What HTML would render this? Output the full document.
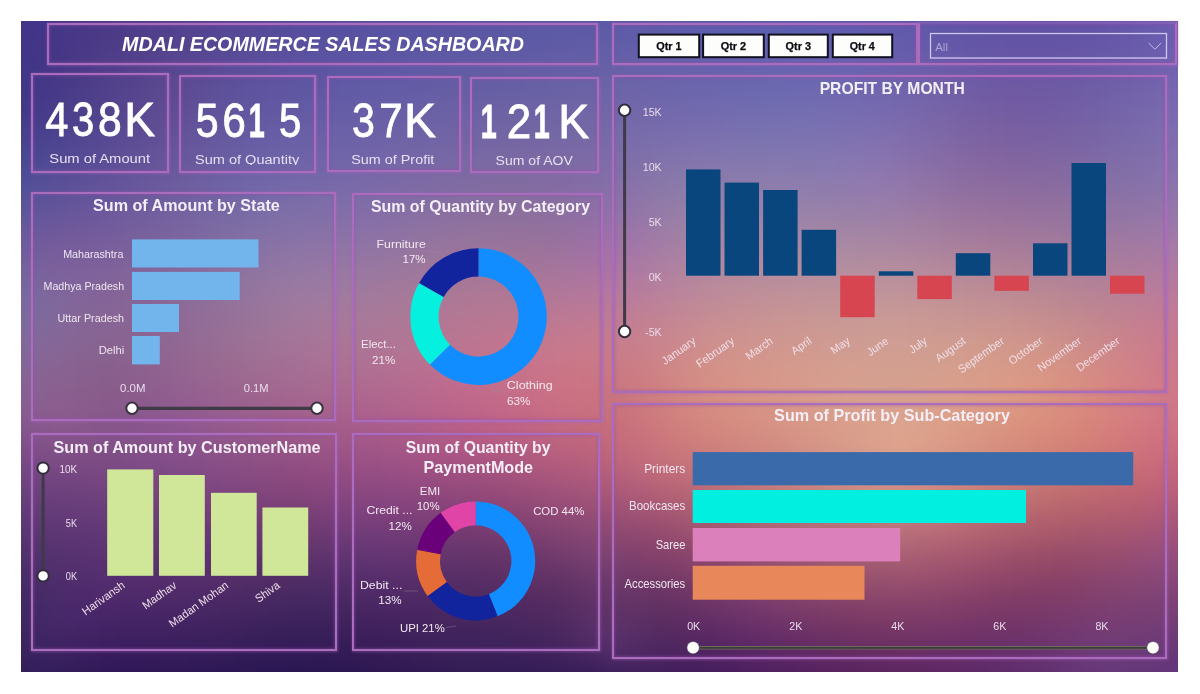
<!DOCTYPE html>
<html><head><meta charset="utf-8">
<style>
*{margin:0;padding:0;box-sizing:border-box}
html,body{width:1200px;height:694px;background:#fff;overflow:hidden;position:relative;font-family:"Liberation Sans",sans-serif}
#bg{position:absolute;left:21px;top:21px;width:1157px;height:651px;overflow:hidden;box-shadow:none}
#bgc{position:absolute;left:-11px;top:-11px;width:1180px;height:674px;filter:blur(3px)}
#bgc i{position:absolute;left:0;width:1180px;height:7px;display:block}
.box{position:absolute;border:2.8px solid #aa6cbc;box-shadow:inset 0 0 3px 1px rgba(150,80,170,.45),0 0 2.5px .5px rgba(170,100,190,.45)}
text{font-family:"Liberation Sans",sans-serif}
.t0{font-size:21px;font-weight:bold;font-style:italic;fill:#fff}
.q{font-size:9.5px;font-weight:bold;fill:#0c0c14;stroke:#0c0c14;stroke-width:.25px}
.dd{font-size:11.5px;fill:#aca4d6}
.kv{font-size:48px;fill:#fff;stroke:#fff;stroke-width:.9px}
.kl{font-size:14.5px;fill:#e8dff2}
.ct{font-size:17px;font-weight:bold;fill:#f4eef6}
.sl{font-size:11px;fill:#efe6f0}
.ax{font-size:10px;fill:#eadcec}
.dl{font-size:11px;fill:#f2e8f0}
.rl{font-size:10px;fill:#efdfe9}
</style></head><body>
<div id="bg"><div id="bgc">
<i style="top:0px;background:linear-gradient(90deg,#3f338a 0px,#423489 24px,#443587 48px,#473787 72px,#4a3887 96px,#4c3b89 120px,#4e3d8b 144px,#503f8e 168px,#514291 192px,#524494 216px,#524697 240px,#534999 264px,#534a9c 288px,#534c9e 312px,#544e9f 336px,#544fa1 360px,#5550a2 384px,#5552a2 408px,#5653a3 432px,#5654a3 456px,#5755a4 480px,#5856a4 504px,#5856a5 528px,#5957a5 552px,#5958a6 576px,#5a58a7 600px,#5a59a8 624px,#5a59a9 648px,#5a5aaa 672px,#595aab 696px,#595aac 720px,#5a5bad 744px,#5a5bae 768px,#5a5aae 792px,#5b5aae 816px,#5c59ae 840px,#5c58ad 864px,#5d57ac 888px,#5d56aa 912px,#5d54a9 936px,#5e53a8 960px,#5e52a7 984px,#5e51a6 1008px,#5f51a6 1032px,#6051a7 1056px,#6153a8 1080px,#6254aa 1104px,#6457ac 1128px,#6659af 1152px,#695bb1 1176px,#695cb2 1180px)"></i>
<i style="top:6px;background:linear-gradient(90deg,#3f338a 0px,#423489 24px,#453587 48px,#483786 72px,#4a3987 96px,#4d3b89 120px,#4f3e8b 144px,#50408e 168px,#524391 192px,#534594 216px,#534797 240px,#54499a 264px,#544b9c 288px,#544d9e 312px,#554fa0 336px,#5550a1 360px,#5651a2 384px,#5652a3 408px,#5753a3 432px,#5754a3 456px,#5855a4 480px,#5956a4 504px,#5957a5 528px,#5a58a5 552px,#5b59a6 576px,#5b59a7 600px,#5b5aa8 624px,#5b5aa9 648px,#5b5baa 672px,#5b5bab 696px,#5b5bac 720px,#5b5bad 744px,#5b5cae 768px,#5c5bae 792px,#5c5bae 816px,#5d5aae 840px,#5e59ad 864px,#5e58ac 888px,#5f56aa 912px,#5f55a9 936px,#5f53a8 960px,#5f52a7 984px,#5f52a6 1008px,#6051a6 1032px,#6152a7 1056px,#6253a8 1080px,#6355a9 1104px,#6557ac 1128px,#675aae 1152px,#6a5cb1 1176px,#6a5db2 1180px)"></i>
<i style="top:12px;background:linear-gradient(90deg,#3f338a 0px,#423489 24px,#453687 48px,#483786 72px,#4b3987 96px,#4d3c89 120px,#4f3e8b 144px,#51418e 168px,#534391 192px,#534694 216px,#544897 240px,#544a9a 264px,#554c9d 288px,#554e9f 312px,#564fa0 336px,#5651a1 360px,#5752a2 384px,#5753a3 408px,#5854a3 432px,#5955a4 456px,#5956a4 480px,#5a57a4 504px,#5b58a5 528px,#5b59a5 552px,#5c5aa6 576px,#5d5aa7 600px,#5d5ba8 624px,#5c5ba9 648px,#5c5baa 672px,#5c5cac 696px,#5c5cad 720px,#5c5cae 744px,#5d5dae 768px,#5d5daf 792px,#5e5caf 816px,#5e5bae 840px,#5f5aad 864px,#6059ac 888px,#6057aa 912px,#6056a9 936px,#6054a8 960px,#6053a7 984px,#6152a6 1008px,#6152a6 1032px,#6253a6 1056px,#6354a7 1080px,#6456a9 1104px,#6658ac 1128px,#685bae 1152px,#6b5db1 1176px,#6b5db1 1180px)"></i>
<i style="top:18px;background:linear-gradient(90deg,#3f348a 0px,#423589 24px,#453687 48px,#483886 72px,#4b3a87 96px,#4e3c89 120px,#503f8c 144px,#52418e 168px,#534492 192px,#544795 216px,#554998 240px,#554b9b 264px,#564d9d 288px,#564f9f 312px,#5750a1 336px,#5752a2 360px,#5853a3 384px,#5854a3 408px,#5955a3 432px,#5a56a4 456px,#5a57a4 480px,#5b58a4 504px,#5c59a5 528px,#5d5aa5 552px,#5d5aa6 576px,#5e5ba7 600px,#5e5ca8 624px,#5e5ca9 648px,#5d5caa 672px,#5d5dac 696px,#5d5dad 720px,#5d5dae 744px,#5e5eae 768px,#5e5eaf 792px,#5f5daf 816px,#605cae 840px,#615bad 864px,#615aac 888px,#6158aa 912px,#6157a9 936px,#6155a7 960px,#6154a6 984px,#6253a6 1008px,#6253a6 1032px,#6353a6 1056px,#6454a7 1080px,#6556a9 1104px,#6759ab 1128px,#695cae 1152px,#6c5eb1 1176px,#6c5eb1 1180px)"></i>
<i style="top:24px;background:linear-gradient(90deg,#3f348a 0px,#423588 24px,#463686 48px,#493886 72px,#4c3a87 96px,#4f3d89 120px,#513f8c 144px,#53428f 168px,#544592 192px,#554795 216px,#564a98 240px,#564c9b 264px,#574e9d 288px,#57509f 312px,#5851a1 336px,#5853a2 360px,#5954a3 384px,#5a55a3 408px,#5a56a4 432px,#5b57a4 456px,#5c58a4 480px,#5c59a4 504px,#5d5aa5 528px,#5e5aa5 552px,#5f5ba6 576px,#5f5ca7 600px,#5f5ca8 624px,#5f5da9 648px,#5f5dab 672px,#5f5eac 696px,#5f5ead 720px,#5f5fae 744px,#5f5faf 768px,#605faf 792px,#615eaf 816px,#615daf 840px,#625cae 864px,#625bac 888px,#6359aa 912px,#6357a9 936px,#6356a7 960px,#6354a6 984px,#6353a5 1008px,#6353a5 1032px,#6454a6 1056px,#6555a7 1080px,#6657a9 1104px,#685aab 1128px,#6a5cae 1152px,#6d5fb1 1176px,#6d5fb1 1180px)"></i>
<i style="top:30px;background:linear-gradient(90deg,#3f3489 0px,#433588 24px,#463686 48px,#493886 72px,#4c3b87 96px,#4f3d89 120px,#52408c 144px,#54438f 168px,#554692 192px,#564896 216px,#574b99 240px,#574d9c 264px,#584f9e 288px,#5851a0 312px,#5952a1 336px,#5953a2 360px,#5a55a3 384px,#5b56a4 408px,#5b57a4 432px,#5c58a4 456px,#5d59a4 480px,#5e5aa4 504px,#5e5aa5 528px,#5f5ba5 552px,#605ca6 576px,#615da7 600px,#615da8 624px,#615ea9 648px,#605eab 672px,#605fac 696px,#605fad 720px,#6060ae 744px,#6160af 768px,#6160af 792px,#625faf 816px,#635faf 840px,#635dae 864px,#645cac 888px,#645aaa 912px,#6458a9 936px,#6456a7 960px,#6455a6 984px,#6454a5 1008px,#6454a5 1032px,#6555a6 1056px,#6656a7 1080px,#6758a9 1104px,#695bab 1128px,#6b5dae 1152px,#6e60b1 1176px,#6e60b1 1180px)"></i>
<i style="top:36px;background:linear-gradient(90deg,#3f3489 0px,#433588 24px,#463786 48px,#493986 72px,#4d3b87 96px,#503e8a 120px,#53418c 144px,#55448f 168px,#564793 192px,#574996 216px,#584c99 240px,#584e9c 264px,#59509f 288px,#5952a0 312px,#5a53a2 336px,#5a54a3 360px,#5b56a3 384px,#5c57a4 408px,#5d58a4 432px,#5d59a4 456px,#5e5aa4 480px,#5f5aa5 504px,#605ba5 528px,#615ca5 552px,#615da6 576px,#625ea7 600px,#625ea8 624px,#625faa 648px,#625fab 672px,#6160ac 696px,#6160ad 720px,#6261ae 744px,#6261af 768px,#6361b0 792px,#6461b0 816px,#6460af 840px,#655fae 864px,#655dac 888px,#665baa 912px,#6659a9 936px,#6557a7 960px,#6556a6 984px,#6555a5 1008px,#6555a5 1032px,#6655a5 1056px,#6757a7 1080px,#6859a8 1104px,#6a5bab 1128px,#6c5eae 1152px,#6f61b1 1176px,#6f61b1 1180px)"></i>
<i style="top:42px;background:linear-gradient(90deg,#3f3489 0px,#423587 24px,#463786 48px,#4a3986 72px,#4d3c88 96px,#513f8a 120px,#54428d 144px,#564590 168px,#574793 192px,#584a97 216px,#594d9a 240px,#594f9d 264px,#5a519f 288px,#5a53a1 312px,#5b54a2 336px,#5b55a3 360px,#5c56a4 384px,#5d58a4 408px,#5e59a4 432px,#5e59a4 456px,#5f5aa4 480px,#605ba5 504px,#615ca5 528px,#625da6 552px,#635ea6 576px,#635fa7 600px,#645fa8 624px,#6360aa 648px,#6360ab 672px,#6360ac 696px,#6361ae 720px,#6362af 744px,#6362af 768px,#6462b0 792px,#6562b0 816px,#6661af 840px,#6760ae 864px,#675eac 888px,#675caa 912px,#675aa8 936px,#6758a7 960px,#6756a5 984px,#6755a5 1008px,#6755a5 1032px,#6756a5 1056px,#6857a6 1080px,#695aa8 1104px,#6b5cab 1128px,#6d5fae 1152px,#7062b1 1176px,#7062b1 1180px)"></i>
<i style="top:48px;background:linear-gradient(90deg,#3f3489 0px,#423587 24px,#463786 48px,#4a3a86 72px,#4e3d88 96px,#513f8a 120px,#54428d 144px,#574590 168px,#584894 192px,#594b97 216px,#5a4e9a 240px,#5a509d 264px,#5b52a0 288px,#5b53a1 312px,#5c55a3 336px,#5d56a4 360px,#5d57a4 384px,#5e58a4 408px,#5f59a4 432px,#605aa4 456px,#615ba4 480px,#615ca5 504px,#625da5 528px,#635ea6 552px,#645fa6 576px,#655fa7 600px,#6560a8 624px,#6560aa 648px,#6461ab 672px,#6461ac 696px,#6462ae 720px,#6463af 744px,#6563b0 768px,#6663b0 792px,#6763b0 816px,#6762af 840px,#6861ae 864px,#695fac 888px,#695daa 912px,#695ba8 936px,#6859a6 960px,#6857a5 984px,#6856a4 1008px,#6856a4 1032px,#6857a5 1056px,#6958a6 1080px,#6a5ba8 1104px,#6c5dab 1128px,#6f60ae 1152px,#7163b1 1176px,#7163b1 1180px)"></i>
<i style="top:54px;background:linear-gradient(90deg,#3f3588 0px,#423687 24px,#463886 48px,#4a3a87 72px,#4e3d88 96px,#52408b 120px,#55438d 144px,#584691 168px,#594994 192px,#5a4c98 216px,#5a4f9b 240px,#5b519e 264px,#5c53a0 288px,#5c54a2 312px,#5d56a3 336px,#5e57a4 360px,#5f58a4 384px,#5f59a5 408px,#605aa5 432px,#615ba4 456px,#625ca4 480px,#635da5 504px,#645ea5 528px,#655fa6 552px,#665fa6 576px,#6660a7 600px,#6661a9 624px,#6661aa 648px,#6662ab 672px,#6662ad 696px,#6663ae 720px,#6664af 744px,#6664b0 768px,#6764b0 792px,#6864b0 816px,#6963b0 840px,#6a62ae 864px,#6a60ad 888px,#6a5eaa 912px,#6a5ca8 936px,#6a5aa6 960px,#6958a5 984px,#6957a4 1008px,#6957a4 1032px,#6958a5 1056px,#6a59a6 1080px,#6c5ca8 1104px,#6d5eab 1128px,#7061ae 1152px,#7264b1 1176px,#7364b1 1180px)"></i>
<i style="top:60px;background:linear-gradient(90deg,#3f3588 0px,#423687 24px,#463886 48px,#4b3b87 72px,#4f3e89 96px,#53418b 120px,#56448e 144px,#594791 168px,#5a4a95 192px,#5b4d98 216px,#5b509c 240px,#5c529e 264px,#5d54a1 288px,#5d55a2 312px,#5e57a4 336px,#5f58a4 360px,#6059a5 384px,#615aa5 408px,#615ba5 432px,#625ca5 456px,#635da5 480px,#645ea5 504px,#655ea5 528px,#665fa6 552px,#6760a6 576px,#6861a7 600px,#6862a9 624px,#6862aa 648px,#6763ab 672px,#6763ad 696px,#6764ae 720px,#6765af 744px,#6866b0 768px,#6966b0 792px,#6a65b0 816px,#6b64b0 840px,#6c63af 864px,#6c61ad 888px,#6c5faa 912px,#6c5da8 936px,#6b5aa6 960px,#6b58a5 984px,#6a58a4 1008px,#6a58a4 1032px,#6b58a5 1056px,#6b5aa6 1080px,#6d5da8 1104px,#6f5fab 1128px,#7162ae 1152px,#7365b1 1176px,#7465b1 1180px)"></i>
<i style="top:66px;background:linear-gradient(90deg,#3f3588 0px,#423687 24px,#473987 48px,#4b3b88 72px,#4f3f89 96px,#54428c 120px,#57458e 144px,#5a4892 168px,#5b4b95 192px,#5c4e99 216px,#5c519c 240px,#5d539f 264px,#5e55a1 288px,#5e56a3 312px,#5f58a4 336px,#6059a5 360px,#615aa5 384px,#625ba5 408px,#635ca5 432px,#645da5 456px,#645ea5 480px,#655ea5 504px,#665fa5 528px,#6760a6 552px,#6861a6 576px,#6962a8 600px,#6963a9 624px,#6963aa 648px,#6964ac 672px,#6964ad 696px,#6965ae 720px,#6966af 744px,#6a67b0 768px,#6a67b1 792px,#6b66b1 816px,#6c66b0 840px,#6d64af 864px,#6e62ad 888px,#6e60aa 912px,#6d5ea8 936px,#6d5ba6 960px,#6c59a4 984px,#6c58a4 1008px,#6c58a4 1032px,#6c59a5 1056px,#6c5ba6 1080px,#6e5ea8 1104px,#7060ab 1128px,#7263ae 1152px,#7466b1 1176px,#7566b1 1180px)"></i>
<i style="top:72px;background:linear-gradient(90deg,#3f3688 0px,#423787 24px,#473987 48px,#4b3c88 72px,#503f8a 96px,#54438c 120px,#58468f 144px,#5b4992 168px,#5c4c96 192px,#5d4f99 216px,#5d529d 240px,#5e54a0 264px,#5f56a2 288px,#5f57a4 312px,#6059a5 336px,#615aa5 360px,#625ba5 384px,#635ca5 408px,#645da5 432px,#655ea5 456px,#665ea5 480px,#675fa5 504px,#6860a5 528px,#6961a6 552px,#6a62a6 576px,#6b63a8 600px,#6b64a9 624px,#6b64aa 648px,#6b65ac 672px,#6a65ad 696px,#6a66ae 720px,#6b67af 744px,#6b68b0 768px,#6c68b1 792px,#6d68b1 816px,#6e67b0 840px,#6f65af 864px,#6f64ad 888px,#6f61aa 912px,#6f5fa8 936px,#6e5ca6 960px,#6e5aa4 984px,#6d59a3 1008px,#6d59a4 1032px,#6d5aa4 1056px,#6e5ca6 1080px,#6f5fa8 1104px,#7161ab 1128px,#7364ae 1152px,#7667b1 1176px,#7667b1 1180px)"></i>
<i style="top:78px;background:linear-gradient(90deg,#3f3788 0px,#433787 24px,#473a88 48px,#4c3d89 72px,#51408b 96px,#55438d 120px,#594790 144px,#5c4a93 168px,#5d4d96 192px,#5e509a 216px,#5e539e 240px,#5f55a0 264px,#6057a3 288px,#6158a4 312px,#615aa5 336px,#625ba6 360px,#635ca6 384px,#645da5 408px,#655ea5 432px,#665ea5 456px,#675fa5 480px,#6860a5 504px,#6961a5 528px,#6a62a6 552px,#6b63a6 576px,#6c64a8 600px,#6d64a9 624px,#6c65ab 648px,#6c66ac 672px,#6c66ad 696px,#6c68af 720px,#6c69b0 744px,#6d69b0 768px,#6e69b1 792px,#6f69b1 816px,#7068b0 840px,#7167af 864px,#7165ad 888px,#7162aa 912px,#7160a8 936px,#705da5 960px,#6f5ba4 984px,#6f5aa3 1008px,#6e5aa3 1032px,#6e5ba4 1056px,#6f5da6 1080px,#7060a8 1104px,#7263ab 1128px,#7465ae 1152px,#7768b1 1176px,#7768b1 1180px)"></i>
<i style="top:84px;background:linear-gradient(90deg,#3f3788 0px,#433887 24px,#473b88 48px,#4c3e8a 72px,#51418c 96px,#56448e 120px,#5a4890 144px,#5d4b93 168px,#5e4e97 192px,#5f519b 216px,#5f549e 240px,#6056a1 264px,#6158a3 288px,#6259a5 312px,#635ba5 336px,#645ca6 360px,#655da6 384px,#665ea6 408px,#675ea5 432px,#685fa5 456px,#6960a4 480px,#6a61a5 504px,#6b62a5 528px,#6c63a5 552px,#6d64a6 576px,#6e65a8 600px,#6e65a9 624px,#6e66ab 648px,#6e67ac 672px,#6e67ae 696px,#6e69af 720px,#6e6ab0 744px,#6f6ab0 768px,#6f6bb1 792px,#716ab1 816px,#7269b1 840px,#7368af 864px,#7366ad 888px,#7363aa 912px,#7261a7 936px,#725ea5 960px,#715ba3 984px,#705aa3 1008px,#705ba3 1032px,#705ca4 1056px,#705ea6 1080px,#7161a8 1104px,#7364ab 1128px,#7566ae 1152px,#7869b1 1176px,#7969b1 1180px)"></i>
<i style="top:90px;background:linear-gradient(90deg,#403889 0px,#433988 24px,#483c89 48px,#4d3f8a 72px,#52428c 96px,#57458f 120px,#5b4991 144px,#5e4c94 168px,#5f4f98 192px,#60529c 216px,#60559f 240px,#6157a2 264px,#6259a4 288px,#635ba5 312px,#645ca6 336px,#655da6 360px,#665ea6 384px,#675fa6 408px,#685fa5 432px,#6960a5 456px,#6a61a4 480px,#6b62a4 504px,#6c62a5 528px,#6d63a5 552px,#6e64a6 576px,#6f65a8 600px,#7066a9 624px,#7067ab 648px,#7068ad 672px,#7069ae 696px,#706aaf 720px,#706bb0 744px,#706cb1 768px,#716cb1 792px,#726bb1 816px,#746ab1 840px,#7469af 864px,#7567ad 888px,#7565aa 912px,#7462a7 936px,#735fa5 960px,#725ca3 984px,#725ba3 1008px,#715ca3 1032px,#715da4 1056px,#715fa6 1080px,#7262a8 1104px,#7465ab 1128px,#7768ae 1152px,#796ab1 1176px,#7a6ab1 1180px)"></i>
<i style="top:96px;background:linear-gradient(90deg,#40398a 0px,#443a89 24px,#483d8a 48px,#4e408b 72px,#53438d 96px,#58468f 120px,#5c4a92 144px,#5f4d95 168px,#605098 192px,#61539c 216px,#6156a0 240px,#6258a2 264px,#635aa4 288px,#645ca6 312px,#655da6 336px,#665ea7 360px,#675fa6 384px,#695fa6 408px,#6a60a5 432px,#6b61a5 456px,#6b62a4 480px,#6c62a4 504px,#6d63a5 528px,#6f64a5 552px,#7065a6 576px,#7166a8 600px,#7167a9 624px,#7268ab 648px,#7269ad 672px,#716aae 696px,#726baf 720px,#726cb0 744px,#726db1 768px,#736db1 792px,#746db1 816px,#756cb1 840px,#766ab0 864px,#7768ad 888px,#7766aa 912px,#7663a7 936px,#7560a5 960px,#745da3 984px,#735ca2 1008px,#725ca3 1032px,#725ea4 1056px,#7360a6 1080px,#7463a8 1104px,#7566ab 1128px,#7869ae 1152px,#7b6bb1 1176px,#7b6bb1 1180px)"></i>
<i style="top:102px;background:linear-gradient(90deg,#413b8a 0px,#443b8a 24px,#493e8b 48px,#4e418c 72px,#53448e 96px,#584790 120px,#5d4b93 144px,#604e96 168px,#615299 192px,#62559d 216px,#6257a0 240px,#635aa3 264px,#645ba5 288px,#655da6 312px,#665ea7 336px,#685fa7 360px,#695fa7 384px,#6a60a6 408px,#6b61a5 432px,#6c62a5 456px,#6d62a4 480px,#6e63a4 504px,#6f64a5 528px,#7065a5 552px,#7166a6 576px,#7267a8 600px,#7368aa 624px,#7369ab 648px,#746aad 672px,#746bae 696px,#736caf 720px,#736eb0 744px,#746eb1 768px,#756eb1 792px,#766eb1 816px,#776db1 840px,#786bb0 864px,#7969ad 888px,#7867aa 912px,#7864a7 936px,#7760a4 960px,#765ea3 984px,#755da2 1008px,#745da2 1032px,#745fa4 1056px,#7461a6 1080px,#7564a8 1104px,#7767ab 1128px,#796aae 1152px,#7c6bb1 1176px,#7c6cb1 1180px)"></i>
<i style="top:108px;background:linear-gradient(90deg,#423c8b 0px,#453d8b 24px,#4a3f8c 48px,#4f428d 72px,#54458f 96px,#594991 120px,#5e4c94 144px,#614f96 168px,#62539a 192px,#63569e 216px,#6359a1 240px,#645ba4 264px,#655ca5 288px,#675ea7 312px,#685fa7 336px,#6960a7 360px,#6a60a7 384px,#6b61a6 408px,#6d62a5 432px,#6e63a5 456px,#6e63a4 480px,#6f64a4 504px,#7065a4 528px,#7265a5 552px,#7367a6 576px,#7468a8 600px,#7469aa 624px,#756aab 648px,#766bad 672px,#766caf 696px,#756eaf 720px,#756fb0 744px,#7670b1 768px,#7770b1 792px,#786fb2 816px,#796eb1 840px,#7a6db0 864px,#7b6bad 888px,#7a68aa 912px,#7a65a7 936px,#7861a4 960px,#775fa2 984px,#765ea2 1008px,#755ea2 1032px,#7560a4 1056px,#7562a6 1080px,#7665a8 1104px,#7868ab 1128px,#7a6aae 1152px,#7d6cb1 1176px,#7e6db1 1180px)"></i>
<i style="top:114px;background:linear-gradient(90deg,#433e8c 0px,#463f8c 24px,#4b418d 48px,#50438f 72px,#554790 96px,#5a4a92 120px,#5f4d94 144px,#625097 168px,#63549b 192px,#64579f 216px,#645aa2 240px,#655ca4 264px,#665ea6 288px,#685fa7 312px,#6960a8 336px,#6b60a7 360px,#6c61a7 384px,#6d62a6 408px,#6e63a5 432px,#6f63a4 456px,#7064a4 480px,#7165a4 504px,#7265a4 528px,#7366a5 552px,#7467a6 576px,#7569a8 600px,#766aaa 624px,#776bac 648px,#786cae 672px,#786daf 696px,#786fb0 720px,#7770b0 744px,#7871b0 768px,#7971b1 792px,#7a70b2 816px,#7b6fb1 840px,#7c6eb0 864px,#7d6cad 888px,#7c69aa 912px,#7b66a6 936px,#7a62a4 960px,#7960a2 984px,#785fa1 1008px,#775fa2 1032px,#7761a3 1056px,#7763a5 1080px,#7766a8 1104px,#7969ab 1128px,#7c6bae 1152px,#7e6db1 1176px,#7f6db1 1180px)"></i>
<i style="top:120px;background:linear-gradient(90deg,#433f8d 0px,#47408d 24px,#4c428e 48px,#514590 72px,#564891 96px,#5b4b93 120px,#604e95 144px,#635298 168px,#64559c 192px,#65589f 216px,#655ba3 240px,#665da5 264px,#685fa7 288px,#6960a8 312px,#6b61a8 336px,#6c61a8 360px,#6d62a7 384px,#6f63a6 408px,#7064a5 432px,#7164a4 456px,#7265a4 480px,#7365a4 504px,#7366a4 528px,#7467a5 552px,#7668a6 576px,#7769a8 600px,#786baa 624px,#796cac 648px,#7a6eae 672px,#7a6faf 696px,#7a70af 720px,#7972b0 744px,#7a72b0 768px,#7b72b1 792px,#7c72b1 816px,#7d71b1 840px,#7e6fb0 864px,#7f6dad 888px,#7e6aaa 912px,#7d67a6 936px,#7c63a3 960px,#7b61a2 984px,#7a60a1 1008px,#7960a2 1032px,#7862a3 1056px,#7864a5 1080px,#7967a8 1104px,#7a6aab 1128px,#7d6cae 1152px,#806eb0 1176px,#806eb1 1180px)"></i>
<i style="top:126px;background:linear-gradient(90deg,#45418e 0px,#48428e 24px,#4d448f 48px,#524691 72px,#574993 96px,#5c4c94 120px,#614f96 144px,#645399 168px,#65569d 192px,#665aa0 216px,#665ca3 240px,#685ea6 264px,#6960a7 288px,#6b61a8 312px,#6c62a8 336px,#6e62a8 360px,#6f63a7 384px,#7064a6 408px,#7165a5 432px,#7265a4 456px,#7366a4 480px,#7466a3 504px,#7567a4 528px,#7667a5 552px,#7768a6 576px,#786aa8 600px,#796caa 624px,#7a6eab 648px,#7c6fae 672px,#7c70af 696px,#7c72af 720px,#7b73af 744px,#7c74b0 768px,#7d73b1 792px,#7e73b1 816px,#7f72b1 840px,#8170b0 864px,#816ead 888px,#806baa 912px,#7f68a6 936px,#7e64a3 960px,#7c62a1 984px,#7b61a1 1008px,#7a61a2 1032px,#7a63a3 1056px,#7965a5 1080px,#7a68a8 1104px,#7b6bab 1128px,#7e6dae 1152px,#816fb0 1176px,#816fb1 1180px)"></i>
<i style="top:132px;background:linear-gradient(90deg,#464390 0px,#494490 24px,#4e4591 48px,#534892 72px,#584a94 96px,#5d4d95 120px,#625197 144px,#65549a 168px,#66589d 192px,#675ba1 216px,#675da4 240px,#6960a6 264px,#6a61a8 288px,#6c62a8 312px,#6e63a8 336px,#6f63a8 360px,#7064a7 384px,#7265a6 408px,#7365a5 432px,#7466a4 456px,#7566a3 480px,#7667a3 504px,#7767a4 528px,#7868a5 552px,#7969a6 576px,#7a6ba8 600px,#7b6daa 624px,#7c6fab 648px,#7d70ad 672px,#7e72af 696px,#7e73af 720px,#7d74af 744px,#7e75b0 768px,#7f75b1 792px,#8074b1 816px,#8173b1 840px,#8372b0 864px,#836fad 888px,#826ca9 912px,#8169a6 936px,#8065a3 960px,#7e63a1 984px,#7d62a1 1008px,#7c63a1 1032px,#7b64a3 1056px,#7b66a5 1080px,#7b69a8 1104px,#7d6baa 1128px,#7f6ead 1152px,#826fb0 1176px,#8370b0 1180px)"></i>
<i style="top:138px;background:linear-gradient(90deg,#474591 0px,#4a4591 24px,#4f4792 48px,#544993 72px,#594c95 96px,#5e4f96 120px,#635298 144px,#66559b 168px,#67599e 192px,#685ca2 216px,#695fa5 240px,#6a61a7 264px,#6c62a8 288px,#6e63a9 312px,#6f64a9 336px,#7164a8 360px,#7265a7 384px,#7366a6 408px,#7566a5 432px,#7667a4 456px,#7767a3 480px,#7768a3 504px,#7868a3 528px,#7969a5 552px,#7a6aa6 576px,#7b6ba8 600px,#7d6eaa 624px,#7e70ab 648px,#7f72ad 672px,#8073ae 696px,#8075af 720px,#8076af 744px,#8076af 768px,#8176b0 792px,#8275b1 816px,#8374b1 840px,#8573b0 864px,#8570ad 888px,#846da9 912px,#836aa5 936px,#8266a2 960px,#8064a1 984px,#7f63a1 1008px,#7e64a1 1032px,#7d65a3 1056px,#7c67a5 1080px,#7d6aa7 1104px,#7e6caa 1128px,#816fad 1152px,#8470b0 1176px,#8470b0 1180px)"></i>
<i style="top:144px;background:linear-gradient(90deg,#484792 0px,#4c4792 24px,#514893 48px,#564a94 72px,#5b4d96 96px,#605097 120px,#645399 144px,#67579c 168px,#685a9f 192px,#695da2 216px,#6a60a5 240px,#6b62a7 264px,#6d63a8 288px,#6f64a9 312px,#7165a9 336px,#7265a9 360px,#7466a8 384px,#7567a6 408px,#7667a5 432px,#7868a4 456px,#7868a3 480px,#7968a3 504px,#7a69a3 528px,#7b69a4 552px,#7c6aa6 576px,#7d6ca8 600px,#7e6fa9 624px,#8071ab 648px,#8173ac 672px,#8275ae 696px,#8276ae 720px,#8277ae 744px,#8277af 768px,#8377b0 792px,#8477b1 816px,#8676b1 840px,#8774b0 864px,#8772ad 888px,#866ea9 912px,#856ba5 936px,#8467a2 960px,#8265a1 984px,#8164a0 1008px,#8065a1 1032px,#7f66a2 1056px,#7e68a5 1080px,#7e6ba7 1104px,#7f6daa 1128px,#826fad 1152px,#8571af 1176px,#8671b0 1180px)"></i>
<i style="top:150px;background:linear-gradient(90deg,#4a4893 0px,#4d4993 24px,#524a94 48px,#574c96 72px,#5c4e97 96px,#615198 120px,#65549a 144px,#68589c 168px,#695ba0 192px,#6a5fa3 216px,#6b61a6 240px,#6d63a8 264px,#6f64a9 288px,#7165a9 312px,#7266a9 336px,#7466a9 360px,#7667a8 384px,#7767a6 408px,#7868a5 432px,#7969a3 456px,#7a69a2 480px,#7b69a2 504px,#7c69a3 528px,#7c6aa4 552px,#7d6ba6 576px,#7f6da8 600px,#806fa9 624px,#8272aa 648px,#8375ac 672px,#8476ad 696px,#8477ae 720px,#8478ae 744px,#8479af 768px,#8578af 792px,#8678b0 816px,#8877b1 840px,#8976b0 864px,#8973ad 888px,#886fa9 912px,#876ca5 936px,#8669a2 960px,#8466a0 984px,#8366a0 1008px,#8266a1 1032px,#8168a2 1056px,#806aa4 1080px,#806ca7 1104px,#816eaa 1128px,#8370ad 1152px,#8771af 1176px,#8772b0 1180px)"></i>
<i style="top:156px;background:linear-gradient(90deg,#4b4a94 0px,#4f4b95 24px,#544c95 48px,#594d97 72px,#5e5098 96px,#625399 120px,#66569b 144px,#69599d 168px,#6b5da0 192px,#6b60a4 216px,#6c63a7 240px,#6e64a8 264px,#7066a9 288px,#7266a9 312px,#7467a9 336px,#7667a9 360px,#7768a8 384px,#7968a6 408px,#7a69a4 432px,#7b69a3 456px,#7c6aa2 480px,#7d6aa2 504px,#7d6aa2 528px,#7e6aa4 552px,#7f6ba6 576px,#806da8 600px,#8270a9 624px,#8474aa 648px,#8576ab 672px,#8678ac 696px,#8779ad 720px,#8679ad 744px,#877aae 768px,#8779af 792px,#8879b0 816px,#8a78b0 840px,#8b77b0 864px,#8b74ac 888px,#8a71a8 912px,#896da4 936px,#886aa1 960px,#8668a0 984px,#8567a0 1008px,#8467a1 1032px,#8369a2 1056px,#826ba4 1080px,#816da7 1104px,#826fa9 1128px,#8571ac 1152px,#8872af 1176px,#8972af 1180px)"></i>
<i style="top:162px;background:linear-gradient(90deg,#4d4c95 0px,#514d96 24px,#564d96 48px,#5b4f98 72px,#5f5199 96px,#64549a 120px,#68579c 144px,#6a5a9e 168px,#6c5ea1 192px,#6d61a4 216px,#6e64a7 240px,#7066a8 264px,#7267a9 288px,#7467a9 312px,#7668a9 336px,#7768a9 360px,#7969a7 384px,#7b69a6 408px,#7c6aa4 432px,#7d6aa3 456px,#7e6ba2 480px,#7f6ba1 504px,#7f6ba2 528px,#806ba4 552px,#816ca6 576px,#826ea8 600px,#8471a9 624px,#8675aa 648px,#8778ab 672px,#8879ac 696px,#897aac 720px,#897bad 744px,#897bad 768px,#897bae 792px,#8a7aaf 816px,#8c79b0 840px,#8e78af 864px,#8e75ac 888px,#8d72a8 912px,#8b6ea4 936px,#8a6ba1 960px,#8869a0 984px,#87689f 1008px,#8669a0 1032px,#856aa2 1056px,#836ca4 1080px,#836ea6 1104px,#8470a9 1128px,#8672ac 1152px,#8a73ae 1176px,#8b73af 1180px)"></i>
<i style="top:168px;background:linear-gradient(90deg,#4f4e96 0px,#534e97 24px,#584f97 48px,#5d5098 72px,#61529a 96px,#65559b 120px,#69589c 144px,#6c5c9e 168px,#6d5fa1 192px,#6e62a4 216px,#6f65a7 240px,#7167a8 264px,#7468a9 288px,#7668a9 312px,#7869a9 336px,#7969a9 360px,#7b69a7 384px,#7d6aa6 408px,#7e6ba4 432px,#7f6ba2 456px,#806ba1 480px,#806ba1 504px,#816ba2 528px,#826ba3 552px,#836ca6 576px,#846ea8 600px,#8672a9 624px,#8876a9 648px,#8979aa 672px,#8b7aab 696px,#8b7bac 720px,#8b7cac 744px,#8b7cad 768px,#8c7cad 792px,#8c7bae 816px,#8e7aaf 840px,#9079af 864px,#9077ab 888px,#8f73a7 912px,#8d6fa3 936px,#8c6ca0 960px,#8b6a9f 984px,#896a9f 1008px,#886aa0 1032px,#876ba1 1056px,#856da3 1080px,#856fa6 1104px,#8571a9 1128px,#8872ac 1152px,#8c73ae 1176px,#8c73ae 1180px)"></i>
<i style="top:174px;background:linear-gradient(90deg,#504f97 0px,#555098 24px,#5a5098 48px,#5f5199 72px,#63549a 96px,#67569b 120px,#6b599d 144px,#6d5d9f 168px,#6f60a2 192px,#7064a5 216px,#7166a7 240px,#7368a9 264px,#7669a9 288px,#786aa9 312px,#7a6aa9 336px,#7b6aa9 360px,#7d6aa7 384px,#7e6ba5 408px,#806ca3 432px,#816ca2 456px,#826ca1 480px,#826ca0 504px,#836ca1 528px,#846ca3 552px,#856da6 576px,#866fa8 600px,#8873a9 624px,#8a77a9 648px,#8b7aa9 672px,#8d7caa 696px,#8e7dab 720px,#8e7dab 744px,#8e7dac 768px,#8e7dad 792px,#8e7cad 816px,#907bae 840px,#927aae 864px,#9278ab 888px,#9174a7 912px,#8f71a3 936px,#8e6da0 960px,#8d6c9f 984px,#8c6b9f 1008px,#8a6ba0 1032px,#896da1 1056px,#886ea3 1080px,#8770a6 1104px,#8772a8 1128px,#8a73ab 1152px,#8e74ae 1176px,#8e74ae 1180px)"></i>
<i style="top:180px;background:linear-gradient(90deg,#535198 0px,#575299 24px,#5c5299 48px,#61539a 72px,#65559b 96px,#69579c 120px,#6c5b9d 144px,#6f5e9f 168px,#7061a2 192px,#7165a5 216px,#7367a7 240px,#7569a8 264px,#786aa9 288px,#7a6ba9 312px,#7b6ba9 336px,#7d6ba9 360px,#7f6ba7 384px,#806ca5 408px,#826da3 432px,#836da1 456px,#846da0 480px,#846da0 504px,#856da1 528px,#866da3 552px,#876da5 576px,#896fa8 600px,#8a73a9 624px,#8c78a8 648px,#8e7ba9 672px,#8f7daa 696px,#907eaa 720px,#907eab 744px,#907eab 768px,#907eac 792px,#917dac 816px,#917cad 840px,#947bad 864px,#9479aa 888px,#9376a6 912px,#9272a2 936px,#906f9f 960px,#8f6d9f 984px,#8e6d9f 1008px,#8d6d9f 1032px,#8b6ea1 1056px,#8a6fa3 1080px,#8971a5 1104px,#8972a8 1128px,#8c74ab 1152px,#9074ad 1176px,#9074ae 1180px)"></i>
<i style="top:186px;background:linear-gradient(90deg,#555399 0px,#595399 24px,#5f5399 48px,#63549a 72px,#67569b 96px,#6b599c 120px,#6e5c9d 144px,#705f9f 168px,#7263a2 192px,#7366a5 216px,#7569a7 240px,#776aa8 264px,#7a6ba9 288px,#7c6ca9 312px,#7d6ca9 336px,#7f6ca8 360px,#816ca7 384px,#836da5 408px,#846da3 432px,#856ea1 456px,#866ea0 480px,#876e9f 504px,#876da0 528px,#886da2 552px,#896ea5 576px,#8b70a8 600px,#8d74a9 624px,#8e79a8 648px,#907ca8 672px,#927ea9 696px,#937fa9 720px,#937faa 744px,#9380aa 768px,#937fab 792px,#937eab 816px,#947dac 840px,#967dac 864px,#967aa9 888px,#9677a5 912px,#9473a1 936px,#93709f 960px,#926f9e 984px,#916e9e 1008px,#8f6e9f 1032px,#8e6fa0 1056px,#8c71a2 1080px,#8b72a5 1104px,#8b73a7 1128px,#8e74aa 1152px,#9275ad 1176px,#9375ad 1180px)"></i>
<i style="top:192px;background:linear-gradient(90deg,#57549a 0px,#5c549a 24px,#62549a 48px,#66559b 72px,#69579c 96px,#6d5a9c 120px,#705d9e 144px,#7260a0 168px,#7464a2 192px,#7567a5 216px,#776aa7 240px,#796ca8 264px,#7c6da8 288px,#7e6da9 312px,#7f6da9 336px,#816da8 360px,#836da6 384px,#856ea4 408px,#866ea2 432px,#876fa0 456px,#886f9f 480px,#896e9f 504px,#896e9f 528px,#8a6ea2 552px,#8b6ea5 576px,#8d70a8 600px,#8f74a8 624px,#9179a8 648px,#937da7 672px,#947fa8 696px,#9580a9 720px,#9681a9 744px,#9681a9 768px,#9680aa 792px,#9580aa 816px,#967fab 840px,#987eaa 864px,#997ca8 888px,#9878a4 912px,#9775a1 936px,#95729f 960px,#94709e 984px,#93709e 1008px,#92709f 1032px,#9071a0 1056px,#8f72a2 1080px,#8e73a4 1104px,#8e74a7 1128px,#9175aa 1152px,#9476ac 1176px,#9576ac 1180px)"></i>
<i style="top:198px;background:linear-gradient(90deg,#5a559a 0px,#5f559a 24px,#65559a 48px,#69569b 72px,#6c589c 96px,#6f5b9d 120px,#715e9e 144px,#7461a0 168px,#7565a2 192px,#7768a5 216px,#796ba7 240px,#7b6da8 264px,#7e6ea8 288px,#806ea9 312px,#816ea9 336px,#836da8 360px,#856ea6 384px,#876fa4 408px,#886fa1 432px,#8a6fa0 456px,#8a6f9e 480px,#8b6f9e 504px,#8b6f9f 528px,#8c6ea1 552px,#8e6fa5 576px,#9070a8 600px,#9275a8 624px,#937aa8 648px,#957ea7 672px,#9780a7 696px,#9881a8 720px,#9882a8 744px,#9882a8 768px,#9882a9 792px,#9881a9 816px,#9880aa 840px,#9a7fa9 864px,#9b7da7 888px,#9a7aa4 912px,#9977a0 936px,#98749e 960px,#97729e 984px,#96719e 1008px,#94719e 1032px,#92729f 1056px,#9173a1 1080px,#9074a4 1104px,#9175a6 1128px,#9376a9 1152px,#9776ac 1176px,#9776ac 1180px)"></i>
<i style="top:204px;background:linear-gradient(90deg,#5d579b 0px,#62569b 24px,#68569b 48px,#6b579b 72px,#6e599c 96px,#715c9d 120px,#735f9e 144px,#7562a0 168px,#7766a2 192px,#7969a4 216px,#7b6ca6 240px,#7e6ea7 264px,#806fa8 288px,#826fa8 312px,#846fa8 336px,#856ea8 360px,#876fa6 384px,#8970a3 408px,#8b70a1 432px,#8c709f 456px,#8d709e 480px,#8d709d 504px,#8e6f9e 528px,#8e6fa1 552px,#906fa5 576px,#9271a8 600px,#9475a8 624px,#967aa7 648px,#987fa7 672px,#9981a7 696px,#9a82a7 720px,#9b83a7 744px,#9b83a7 768px,#9b83a8 792px,#9b82a8 816px,#9b81a8 840px,#9d80a8 864px,#9d7ea6 888px,#9d7ca3 912px,#9c78a0 936px,#9b759e 960px,#9a749d 984px,#98739d 1008px,#97739e 1032px,#95739f 1056px,#9474a1 1080px,#9375a3 1104px,#9376a6 1128px,#9676a9 1152px,#9977ab 1176px,#9a77ab 1180px)"></i>
<i style="top:210px;background:linear-gradient(90deg,#60589b 0px,#65579b 24px,#6b579b 48px,#6e589b 72px,#705a9c 96px,#735d9d 120px,#75609e 144px,#7763a0 168px,#7967a2 192px,#7b6aa4 216px,#7d6da6 240px,#806fa7 264px,#8270a7 288px,#8470a8 312px,#8670a8 336px,#876fa7 360px,#8970a5 384px,#8b71a3 408px,#8d71a0 432px,#8e719e 456px,#8f719d 480px,#90719d 504px,#90709d 528px,#9170a0 552px,#936fa4 576px,#9571a8 600px,#9775a8 624px,#997ba7 648px,#9b7fa6 672px,#9c82a6 696px,#9d83a6 720px,#9e84a6 744px,#9e84a6 768px,#9e84a7 792px,#9e83a7 816px,#9e83a7 840px,#9f82a7 864px,#a080a5 888px,#a07da2 912px,#9e7a9f 936px,#9d779d 960px,#9c759d 984px,#9b749d 1008px,#99749d 1032px,#98759e 1056px,#9675a0 1080px,#9676a2 1104px,#9677a5 1128px,#9977a8 1152px,#9c77aa 1176px,#9c77ab 1180px)"></i>
<i style="top:216px;background:linear-gradient(90deg,#62599c 0px,#69589b 24px,#6d589b 48px,#705a9b 72px,#725b9c 96px,#755e9d 120px,#77619e 144px,#79649f 168px,#7b68a1 192px,#7d6ba4 216px,#7f6ea5 240px,#8270a6 264px,#8571a7 288px,#8771a7 312px,#8871a8 336px,#8970a7 360px,#8b71a4 384px,#8d72a2 408px,#8f72a0 432px,#91729e 456px,#91729d 480px,#92719c 504px,#92719d 528px,#93709f 552px,#9570a4 576px,#9871a8 600px,#9a76a8 624px,#9c7ba7 648px,#9d80a5 672px,#9f82a5 696px,#a084a5 720px,#a185a5 744px,#a185a5 768px,#a185a6 792px,#a085a6 816px,#a184a6 840px,#a283a6 864px,#a281a4 888px,#a27fa1 912px,#a17c9f 936px,#a0799d 960px,#9f779c 984px,#9e769c 1008px,#9c769d 1032px,#9a769e 1056px,#99779f 1080px,#9977a2 1104px,#9a78a4 1128px,#9c78a7 1152px,#9f78aa 1176px,#9f77aa 1180px)"></i>
<i style="top:222px;background:linear-gradient(90deg,#655a9c 0px,#6c5a9c 24px,#70599b 48px,#735b9b 72px,#755c9c 96px,#775f9c 120px,#79629e 144px,#7b659f 168px,#7d69a1 192px,#7f6ca3 216px,#816fa5 240px,#8471a6 264px,#8772a7 288px,#8972a7 312px,#8a72a7 336px,#8c72a6 360px,#8e72a4 384px,#9073a1 408px,#92739f 432px,#93739d 456px,#94739c 480px,#94729c 504px,#95729c 528px,#96719f 552px,#9870a4 576px,#9b72a8 600px,#9d76a8 624px,#9e7ca6 648px,#a080a5 672px,#a283a4 696px,#a385a4 720px,#a386a4 744px,#a486a4 768px,#a386a5 792px,#a386a5 816px,#a485a5 840px,#a585a4 864px,#a583a3 888px,#a581a1 912px,#a47e9e 936px,#a37b9c 960px,#a2799c 984px,#a1789c 1008px,#9f789c 1032px,#9d789d 1056px,#9c789f 1080px,#9c78a1 1104px,#9d78a4 1128px,#9f78a6 1152px,#a178a9 1176px,#a278a9 1180px)"></i>
<i style="top:228px;background:linear-gradient(90deg,#685c9d 0px,#6f5b9c 24px,#735a9b 48px,#755c9b 72px,#775d9c 96px,#78609c 120px,#7a639d 144px,#7c669f 168px,#7f69a1 192px,#816da3 216px,#8470a4 240px,#8672a5 264px,#8973a6 288px,#8b73a6 312px,#8c73a6 336px,#8e73a5 360px,#9073a3 384px,#9274a0 408px,#94749e 432px,#95749c 456px,#96739b 480px,#97739b 504px,#97729c 528px,#98719e 552px,#9b71a4 576px,#9e72a8 600px,#a076a7 624px,#a17ca6 648px,#a380a4 672px,#a484a3 696px,#a686a3 720px,#a687a3 744px,#a687a3 768px,#a687a3 792px,#a687a4 816px,#a787a4 840px,#a786a3 864px,#a885a2 888px,#a882a0 912px,#a7809e 936px,#a67d9c 960px,#a57b9b 984px,#a37a9b 1008px,#a2799c 1032px,#a0799c 1056px,#9f799e 1080px,#9f79a0 1104px,#a079a3 1128px,#a279a6 1152px,#a478a8 1176px,#a478a8 1180px)"></i>
<i style="top:234px;background:linear-gradient(90deg,#6a5d9d 0px,#715c9c 24px,#765c9b 48px,#775d9b 72px,#795e9c 96px,#7a619c 120px,#7c639d 144px,#7e679e 168px,#806aa0 192px,#836ea2 216px,#8671a4 240px,#8973a5 264px,#8b74a6 288px,#8d74a6 312px,#8f74a6 336px,#9074a4 360px,#9274a2 384px,#9474a0 408px,#96749e 432px,#98749c 456px,#99749b 480px,#9a739a 504px,#9a739b 528px,#9b729e 552px,#9e71a3 576px,#a072a7 600px,#a277a7 624px,#a47ca5 648px,#a681a3 672px,#a784a2 696px,#a886a2 720px,#a988a2 744px,#a988a2 768px,#a989a2 792px,#a989a2 816px,#a988a3 840px,#aa88a2 864px,#ab86a1 888px,#aa849f 912px,#aa819d 936px,#a97f9b 960px,#a87d9b 984px,#a67b9b 1008px,#a47b9b 1032px,#a37a9c 1056px,#a27a9d 1080px,#a27a9f 1104px,#a37aa2 1128px,#a579a5 1152px,#a779a7 1176px,#a779a7 1180px)"></i>
<i style="top:240px;background:linear-gradient(90deg,#6c5e9d 0px,#735d9c 24px,#785d9c 48px,#795e9b 72px,#7a5f9b 96px,#7c619c 120px,#7e649d 144px,#80679e 168px,#826ba0 192px,#856ea1 216px,#8871a3 240px,#8b74a4 264px,#8e75a5 288px,#9075a5 312px,#9175a5 336px,#9375a3 360px,#9475a1 384px,#97759f 408px,#99759d 432px,#9a759b 456px,#9c759a 480px,#9c749a 504px,#9d739b 528px,#9e739e 552px,#a072a3 576px,#a373a7 600px,#a577a6 624px,#a77da4 648px,#a981a3 672px,#aa85a2 696px,#ab87a1 720px,#ac88a1 744px,#ac89a1 768px,#ac8aa1 792px,#ac8aa1 816px,#ac8aa1 840px,#ad89a1 864px,#ad88a0 888px,#ad869e 912px,#ac839c 936px,#ab819b 960px,#aa7f9a 984px,#a97d9a 1008px,#a77d9a 1032px,#a67c9b 1056px,#a57b9c 1080px,#a57b9e 1104px,#a67aa1 1128px,#a87aa4 1152px,#a979a6 1176px,#a979a6 1180px)"></i>
<i style="top:246px;background:linear-gradient(90deg,#6e609e 0px,#755f9d 24px,#795e9c 48px,#7b5f9b 72px,#7c609b 96px,#7e629b 120px,#7f659c 144px,#82689d 168px,#846c9f 192px,#876fa1 216px,#8a72a2 240px,#8d74a4 264px,#9076a4 288px,#9276a5 312px,#9376a4 336px,#9576a2 360px,#9776a0 384px,#99769e 408px,#9b769c 432px,#9d769a 456px,#9e7599 480px,#9f7599 504px,#9f749a 528px,#a1739d 552px,#a372a2 576px,#a674a6 600px,#a878a5 624px,#aa7da3 648px,#ab82a2 672px,#ad86a1 696px,#ae88a0 720px,#af89a0 744px,#af8aa0 768px,#af8ba0 792px,#af8ba0 816px,#af8ba0 840px,#b08ba0 864px,#b08a9f 888px,#b0889d 912px,#af859b 936px,#ae839a 960px,#ad8199 984px,#ac7f99 1008px,#aa7e99 1032px,#a87d9a 1056px,#a77d9b 1080px,#a77c9d 1104px,#a97b9f 1128px,#ab7aa2 1152px,#ac79a5 1176px,#ac79a5 1180px)"></i>
<i style="top:252px;background:linear-gradient(90deg,#70619e 0px,#76609d 24px,#7b609c 48px,#7c609b 72px,#7e619b 96px,#7f639b 120px,#81669c 144px,#83699d 168px,#866c9e 192px,#8870a0 216px,#8c73a2 240px,#8f75a3 264px,#9277a4 288px,#9477a4 312px,#9677a3 336px,#9777a1 360px,#99779f 384px,#9b779d 408px,#9e779b 432px,#a0769a 456px,#a17699 480px,#a27599 504px,#a2759a 528px,#a4749d 552px,#a673a1 576px,#a974a4 600px,#ab79a4 624px,#ac7ea2 648px,#ae83a1 672px,#b0869f 696px,#b1899f 720px,#b28a9f 744px,#b28b9e 768px,#b28c9f 792px,#b28c9f 816px,#b28d9f 840px,#b38c9f 864px,#b38b9e 888px,#b38a9c 912px,#b2879b 936px,#b18599 960px,#b08399 984px,#af8198 1008px,#ad8098 1032px,#ab7f99 1056px,#aa7e9a 1080px,#aa7d9c 1104px,#ac7c9e 1128px,#ad7ba1 1152px,#ae79a3 1176px,#ae79a4 1180px)"></i>
<i style="top:258px;background:linear-gradient(90deg,#71639f 0px,#77629e 24px,#7c619c 48px,#7e619b 72px,#7f629a 96px,#81649a 120px,#82669b 144px,#85699c 168px,#876d9e 192px,#8a709f 216px,#8e73a1 240px,#9176a2 264px,#9477a3 288px,#9678a3 312px,#9878a2 336px,#9978a0 360px,#9b789e 384px,#9e779c 408px,#a0779a 432px,#a27799 456px,#a37698 480px,#a47698 504px,#a57599 528px,#a6759c 552px,#a974a0 576px,#ab75a3 600px,#ad79a3 624px,#af7ea1 648px,#b1839f 672px,#b2879e 696px,#b4899e 720px,#b58b9d 744px,#b58c9d 768px,#b58d9d 792px,#b58e9e 816px,#b58e9e 840px,#b58e9e 864px,#b68d9d 888px,#b58b9c 912px,#b5899a 936px,#b48799 960px,#b38598 984px,#b18398 1008px,#b08297 1032px,#ae8098 1056px,#ad7f99 1080px,#ad7e9b 1104px,#ae7c9d 1128px,#b07ba0 1152px,#b179a2 1176px,#b179a2 1180px)"></i>
<i style="top:264px;background:linear-gradient(90deg,#72649f 0px,#78649e 24px,#7d629c 48px,#7f629b 72px,#80639a 96px,#82649a 120px,#84669a 144px,#866a9b 168px,#896d9d 192px,#8c709e 216px,#8f74a0 240px,#9376a2 264px,#9678a2 288px,#9879a2 312px,#9a78a1 336px,#9b78a0 360px,#9d789d 384px,#a0789b 408px,#a2779a 432px,#a57798 456px,#a67797 480px,#a77697 504px,#a87699 528px,#a9759b 552px,#ac759f 576px,#ae76a1 600px,#b07aa1 624px,#b27fa0 648px,#b4849e 672px,#b5879d 696px,#b68a9d 720px,#b78c9c 744px,#b88d9c 768px,#b88e9c 792px,#b88f9c 816px,#b88f9d 840px,#b88f9d 864px,#b88f9c 888px,#b88d9b 912px,#b78b99 936px,#b78998 960px,#b68797 984px,#b48597 1008px,#b28397 1032px,#b18297 1056px,#b08098 1080px,#b07e9a 1104px,#b17d9c 1128px,#b37b9e 1152px,#b379a1 1176px,#b379a1 1180px)"></i>
<i style="top:270px;background:linear-gradient(90deg,#73669f 0px,#79659e 24px,#7e649c 48px,#80639a 72px,#826399 96px,#836599 120px,#85679a 144px,#876a9b 168px,#8a6d9c 192px,#8e719e 216px,#91749f 240px,#9577a1 264px,#9879a2 288px,#9a79a2 312px,#9c79a0 336px,#9d799f 360px,#a0799c 384px,#a2789a 408px,#a57899 432px,#a77797 456px,#a97797 480px,#aa7797 504px,#ab7698 528px,#ac769b 552px,#ae769e 576px,#b177a0 600px,#b37b9f 624px,#b4809e 648px,#b6849d 672px,#b8889c 696px,#b98b9b 720px,#ba8d9b 744px,#ba8e9b 768px,#ba8f9b 792px,#ba909b 816px,#ba919c 840px,#bb919c 864px,#bb909b 888px,#bb8f9a 912px,#ba8d98 936px,#b98b97 960px,#b88996 984px,#b78796 1008px,#b58596 1032px,#b48396 1056px,#b28197 1080px,#b37f98 1104px,#b47d9a 1128px,#b57b9d 1152px,#b5799f 1176px,#b5799f 1180px)"></i>
<i style="top:276px;background:linear-gradient(90deg,#7467a0 0px,#7a679f 24px,#7f659c 48px,#81649a 72px,#836499 96px,#846599 120px,#866799 144px,#896a9a 168px,#8c6d9b 192px,#8f719d 216px,#93749e 240px,#9777a0 264px,#9a79a1 288px,#9c79a1 312px,#9e79a0 336px,#a0799e 360px,#a2799b 384px,#a4799a 408px,#a77898 432px,#aa7897 456px,#ab7796 480px,#ad7796 504px,#ad7797 528px,#af769a 552px,#b1779c 576px,#b3789e 600px,#b57b9e 624px,#b7809d 648px,#b9859c 672px,#ba899b 696px,#bc8c9a 720px,#bd8e9a 744px,#bd8f9a 768px,#bd909a 792px,#bd919a 816px,#bd929b 840px,#bd929b 864px,#be929a 888px,#bd9199 912px,#bd8f98 936px,#bc8c96 960px,#bb8a95 984px,#ba8895 1008px,#b88795 1032px,#b68495 1056px,#b58296 1080px,#b58097 1104px,#b77e99 1128px,#b87b9b 1152px,#b7799e 1176px,#b7799e 1180px)"></i>
<i style="top:282px;background:linear-gradient(90deg,#7668a0 0px,#7b689f 24px,#7f669c 48px,#82649a 72px,#846498 96px,#856598 120px,#876798 144px,#8a6a99 168px,#8d6e9a 192px,#90719c 216px,#94749e 240px,#98779f 264px,#9c79a0 288px,#9e7aa0 312px,#a07a9f 336px,#a17a9d 360px,#a4799b 384px,#a67999 408px,#a97897 432px,#ac7896 456px,#ae7895 480px,#af7795 504px,#b07796 528px,#b27798 552px,#b4779b 576px,#b6799c 600px,#b87c9c 624px,#b9819b 648px,#bb859a 672px,#bd8999 696px,#be8c99 720px,#bf8e99 744px,#c09098 768px,#c09198 792px,#bf9299 816px,#c0939a 840px,#c0949a 864px,#c09499 888px,#c09298 912px,#bf9097 936px,#be8e96 960px,#be8c95 984px,#bc8a94 1008px,#bb8893 1032px,#b98694 1056px,#b88394 1080px,#b88196 1104px,#b97e97 1128px,#ba7c9a 1152px,#ba799c 1176px,#b9799c 1180px)"></i>
<i style="top:288px;background:linear-gradient(90deg,#7769a0 0px,#7c699e 24px,#80679c 48px,#836599 72px,#846498 96px,#866597 120px,#886797 144px,#8b6a98 168px,#8e6e99 192px,#92719b 216px,#96749d 240px,#9a779e 264px,#9d799f 288px,#a07a9f 312px,#a17a9e 336px,#a37a9c 360px,#a6799a 384px,#a97998 408px,#ac7896 432px,#ae7895 456px,#b07894 480px,#b27894 504px,#b37796 528px,#b47897 552px,#b77899 576px,#b87a9a 600px,#ba7d9a 624px,#bc8199 648px,#be8699 672px,#bf8a98 696px,#c18d97 720px,#c28f97 744px,#c29197 768px,#c29297 792px,#c29498 816px,#c29598 840px,#c29599 864px,#c39598 888px,#c29497 912px,#c29296 936px,#c19095 960px,#c08e94 984px,#bf8c93 1008px,#bd8a92 1032px,#bc8793 1056px,#ba8493 1080px,#bb8194 1104px,#bc7e96 1128px,#bc7c98 1152px,#bc799a 1176px,#bb799b 1180px)"></i>
<i style="top:294px;background:linear-gradient(90deg,#78699f 0px,#7c699e 24px,#81679b 48px,#836599 72px,#856597 96px,#876596 120px,#896797 144px,#8c6a97 168px,#8f6e99 192px,#93719a 216px,#97749c 240px,#9b779d 264px,#9f799e 288px,#a17a9e 312px,#a3799d 336px,#a5799b 360px,#a87999 384px,#ab7997 408px,#ae7896 432px,#b17894 456px,#b37894 480px,#b47894 504px,#b67895 528px,#b77896 552px,#b97997 576px,#bb7a98 600px,#bc7d98 624px,#be8298 648px,#c08797 672px,#c28b96 696px,#c38e96 720px,#c49096 744px,#c49296 768px,#c49396 792px,#c49597 816px,#c49697 840px,#c59798 864px,#c59797 888px,#c59596 912px,#c49495 936px,#c39294 960px,#c39093 984px,#c28e92 1008px,#c08b91 1032px,#be8891 1056px,#bd8592 1080px,#bd8293 1104px,#be7f94 1128px,#bf7c96 1152px,#be7999 1176px,#bd7999 1180px)"></i>
<i style="top:300px;background:linear-gradient(90deg,#79699f 0px,#7d6a9e 24px,#81679b 48px,#846698 72px,#866596 96px,#886595 120px,#8a6796 144px,#8d6a97 168px,#916d98 192px,#947199 216px,#98749b 240px,#9c779c 264px,#a0799d 288px,#a3799d 312px,#a5799c 336px,#a7799a 360px,#a97998 384px,#ac7896 408px,#b07895 432px,#b37894 456px,#b57893 480px,#b77893 504px,#b87894 528px,#ba7895 552px,#bc7995 576px,#bd7b96 600px,#bf7e96 624px,#c08296 648px,#c28795 672px,#c48b95 696px,#c58f95 720px,#c69195 744px,#c79395 768px,#c79495 792px,#c69696 816px,#c69797 840px,#c79897 864px,#c79896 888px,#c79796 912px,#c69594 936px,#c69393 960px,#c59192 984px,#c48f91 1008px,#c38d90 1032px,#c18a90 1056px,#bf8691 1080px,#bf8392 1104px,#c17f93 1128px,#c17c95 1152px,#bf7997 1176px,#bf7998 1180px)"></i>
<i style="top:306px;background:linear-gradient(90deg,#7a699e 0px,#7e6a9d 24px,#82689a 48px,#856697 72px,#866595 96px,#886595 120px,#8b6795 144px,#8e6a96 168px,#926d97 192px,#957098 216px,#99749a 240px,#9d769b 264px,#a1789c 288px,#a4799c 312px,#a6799b 336px,#a87999 360px,#ab7897 384px,#ae7896 408px,#b27794 432px,#b57793 456px,#b77792 480px,#b97892 504px,#bb7892 528px,#bd7993 552px,#be7994 576px,#bf7b94 600px,#c17e94 624px,#c28394 648px,#c48894 672px,#c68c94 696px,#c78f94 720px,#c89294 744px,#c99494 768px,#c99594 792px,#c89795 816px,#c89896 840px,#c99996 864px,#c99996 888px,#c99895 912px,#c89794 936px,#c89592 960px,#c79391 984px,#c79190 1008px,#c58e8f 1032px,#c38b8f 1056px,#c2878f 1080px,#c28390 1104px,#c37f91 1128px,#c37c93 1152px,#c17996 1176px,#c17896 1180px)"></i>
<i style="top:312px;background:linear-gradient(90deg,#7b699e 0px,#7f699c 24px,#836899 48px,#856596 72px,#876494 96px,#896594 120px,#8c6794 144px,#8f6995 168px,#926d96 192px,#967097 216px,#9a7399 240px,#9e769a 264px,#a2779b 288px,#a5789b 312px,#a7789a 336px,#aa7898 360px,#ad7897 384px,#b07795 408px,#b37794 432px,#b77792 456px,#b97791 480px,#bb7791 504px,#bd7891 528px,#bf7992 552px,#c17a92 576px,#c17b92 600px,#c37f92 624px,#c48392 648px,#c68892 672px,#c88d92 696px,#c99092 720px,#ca9292 744px,#cb9493 768px,#cb9693 792px,#ca9894 816px,#ca9995 840px,#ca9a95 864px,#cb9a95 888px,#ca9994 912px,#ca9893 936px,#ca9691 960px,#ca9490 984px,#c9928f 1008px,#c88f8e 1032px,#c68c8e 1056px,#c4888e 1080px,#c4848f 1104px,#c57f90 1128px,#c57c92 1152px,#c37995 1176px,#c27895 1180px)"></i>
<i style="top:318px;background:linear-gradient(90deg,#7c699d 0px,#80699b 24px,#836798 48px,#866595 72px,#876493 96px,#896493 120px,#8c6693 144px,#906994 168px,#936c95 192px,#976f96 216px,#9b7298 240px,#9f7599 264px,#a3769a 288px,#a6779a 312px,#a87799 336px,#ab7798 360px,#ae7796 384px,#b17794 408px,#b57693 432px,#b87692 456px,#bb7791 480px,#bd7790 504px,#bf7890 528px,#c17990 552px,#c37a90 576px,#c37c90 600px,#c47f90 624px,#c68490 648px,#c88991 672px,#ca8d91 696px,#cb9191 720px,#cc9391 744px,#cc9592 768px,#cc9792 792px,#cc9993 816px,#cc9a94 840px,#cc9b94 864px,#cc9b94 888px,#cc9a93 912px,#cc9992 936px,#cc9790 960px,#cc958f 984px,#cb938e 1008px,#ca908d 1032px,#c88d8d 1056px,#c7898d 1080px,#c7848e 1104px,#c7808f 1128px,#c77c90 1152px,#c47893 1176px,#c47894 1180px)"></i>
<i style="top:324px;background:linear-gradient(90deg,#7d699c 0px,#81699b 24px,#846798 48px,#866594 72px,#886492 96px,#8a6492 120px,#8d6693 144px,#906894 168px,#946c94 192px,#986f95 216px,#9c7297 240px,#a07498 264px,#a47599 288px,#a77699 312px,#a97698 336px,#ac7697 360px,#af7695 384px,#b37694 408px,#b67692 432px,#ba7691 456px,#bd7690 480px,#bf778f 504px,#c1788f 528px,#c3798f 552px,#c57a8e 576px,#c57c8e 600px,#c67f8e 624px,#c8848f 648px,#ca898f 672px,#cc8e8f 696px,#cd9190 720px,#ce9490 744px,#ce9691 768px,#ce9891 792px,#ce9992 816px,#cd9b93 840px,#cd9c93 864px,#ce9c93 888px,#ce9b92 912px,#ce9a91 936px,#ce9990 960px,#ce978e 984px,#ce948d 1008px,#cd928c 1032px,#cb8e8b 1056px,#c9898c 1080px,#c9858c 1104px,#c9808d 1128px,#c87c8f 1152px,#c67892 1176px,#c57892 1180px)"></i>
<i style="top:330px;background:linear-gradient(90deg,#7e689b 0px,#82689a 24px,#856797 48px,#866493 72px,#886391 96px,#8a6391 120px,#8d6592 144px,#916893 168px,#956b94 192px,#986e94 216px,#9c7196 240px,#a07397 264px,#a47498 288px,#a77598 312px,#aa7597 336px,#ad7596 360px,#b07595 384px,#b47593 408px,#b87592 432px,#bb7590 456px,#be758f 480px,#c1768f 504px,#c3778e 528px,#c5798d 552px,#c67a8d 576px,#c67b8c 600px,#c77f8d 624px,#c9848d 648px,#cb898d 672px,#cd8e8e 696px,#cf928e 720px,#cf948f 744px,#d09690 768px,#d09891 792px,#cf9a92 816px,#cf9b92 840px,#cf9c93 864px,#cf9d93 888px,#cf9c92 912px,#cf9b90 936px,#d09a8f 960px,#d0988d 984px,#d0968c 1008px,#cf938b 1032px,#cd8f8a 1056px,#cb8a8a 1080px,#cb858b 1104px,#cb808c 1128px,#ca7c8e 1152px,#c77891 1176px,#c67891 1180px)"></i>
<i style="top:336px;background:linear-gradient(90deg,#7f679a 0px,#836899 24px,#866696 48px,#876492 72px,#886290 96px,#8a6390 120px,#8e6491 144px,#916792 168px,#956a93 192px,#996d94 216px,#9d7095 240px,#a17296 264px,#a57397 288px,#a87497 312px,#ab7496 336px,#ae7495 360px,#b17494 384px,#b57492 408px,#b97491 432px,#bd7490 456px,#c0748f 480px,#c2758e 504px,#c5778d 528px,#c7788c 552px,#c8798b 576px,#c77b8b 600px,#c87f8b 624px,#ca848b 648px,#cd898c 672px,#cf8e8c 696px,#d0928d 720px,#d1958e 744px,#d1978f 768px,#d19990 792px,#d19b91 816px,#d09c92 840px,#d09d92 864px,#d09d92 888px,#d09d91 912px,#d19c90 936px,#d19a8e 960px,#d2998c 984px,#d2978b 1008px,#d19489 1032px,#cf8f89 1056px,#ce8a89 1080px,#cd858a 1104px,#cc808b 1128px,#cb7c8d 1152px,#c87890 1176px,#c77790 1180px)"></i>
<i style="top:342px;background:linear-gradient(90deg,#7f679a 0px,#846798 24px,#866595 48px,#876391 72px,#88628f 96px,#8b6290 120px,#8e6491 144px,#926692 168px,#966992 192px,#996c93 216px,#9d6f94 240px,#a17095 264px,#a57296 288px,#a87396 312px,#ab7395 336px,#ae7394 360px,#b27393 384px,#b67392 408px,#ba7390 432px,#be738f 456px,#c1748e 480px,#c4758d 504px,#c6768c 528px,#c8788b 552px,#c97989 576px,#c87b89 600px,#c97e89 624px,#cb848a 648px,#ce8a8a 672px,#d08f8b 696px,#d1928c 720px,#d2958d 744px,#d2988e 768px,#d29a8f 792px,#d29b90 816px,#d19d91 840px,#d19e91 864px,#d19e91 888px,#d19d90 912px,#d29d8f 936px,#d39b8d 960px,#d39a8b 984px,#d4978a 1008px,#d39488 1032px,#d19088 1056px,#d08b88 1080px,#cf8589 1104px,#ce808a 1128px,#cc7b8c 1152px,#c9788f 1176px,#c8778f 1180px)"></i>
<i style="top:348px;background:linear-gradient(90deg,#806699 0px,#856697 24px,#876594 48px,#876290 72px,#88618e 96px,#8b618f 120px,#8e6390 144px,#926591 168px,#966892 192px,#9a6b92 216px,#9e6d93 240px,#a16f94 264px,#a57095 288px,#a97195 312px,#ac7195 336px,#af7194 360px,#b37192 384px,#b67191 408px,#bb7190 432px,#be728f 456px,#c2738d 480px,#c5748c 504px,#c7758b 528px,#c97789 552px,#c97888 576px,#c97a87 600px,#ca7e87 624px,#cc8388 648px,#cf8a89 672px,#d18f8a 696px,#d3938b 720px,#d3958c 744px,#d4988d 768px,#d49a8e 792px,#d39c90 816px,#d39d90 840px,#d29e91 864px,#d29e90 888px,#d29e90 912px,#d39d8e 936px,#d49c8c 960px,#d59a8a 984px,#d59889 1008px,#d59587 1032px,#d39087 1056px,#d18b87 1080px,#d08688 1104px,#cf8089 1128px,#cd7b8b 1152px,#ca788e 1176px,#c9778e 1180px)"></i>
<i style="top:354px;background:linear-gradient(90deg,#816598 0px,#856596 24px,#886493 48px,#886190 72px,#88608d 96px,#8b608e 120px,#8e6290 144px,#926491 168px,#966791 192px,#9a6a92 216px,#9e6c92 240px,#a26e93 264px,#a56f94 288px,#a97094 312px,#ac7094 336px,#af7093 360px,#b37092 384px,#b77091 408px,#bb708f 432px,#bf708e 456px,#c3718d 480px,#c5738b 504px,#c8748a 528px,#ca7688 552px,#ca7786 576px,#ca7985 600px,#cb7d85 624px,#cd8386 648px,#d08987 672px,#d28f88 696px,#d4938a 720px,#d4968b 744px,#d5988c 768px,#d59a8e 792px,#d49c8f 816px,#d49e90 840px,#d39e90 864px,#d29e90 888px,#d39e8f 912px,#d49e8e 936px,#d59d8c 960px,#d69b8a 984px,#d79888 1008px,#d69586 1032px,#d59185 1056px,#d38b86 1080px,#d28687 1104px,#d08088 1128px,#ce7b8a 1152px,#cb778d 1176px,#ca778d 1180px)"></i>
<i style="top:360px;background:linear-gradient(90deg,#826497 0px,#866495 24px,#886392 48px,#88608f 72px,#885f8d 96px,#8b5f8e 120px,#8e618f 144px,#926391 168px,#976691 192px,#9a6891 216px,#9e6b92 240px,#a26c92 264px,#a56d93 288px,#a96e93 312px,#ac6e93 336px,#af6e92 360px,#b36e91 384px,#b76e90 408px,#bc6f8f 432px,#c06f8d 456px,#c3708c 480px,#c6728b 504px,#c87389 528px,#ca7587 552px,#ca7685 576px,#ca7884 600px,#cb7c84 624px,#ce8385 648px,#d18986 672px,#d38f87 696px,#d59388 720px,#d5968a 744px,#d6988b 768px,#d69b8d 792px,#d59d8e 816px,#d59e8f 840px,#d49f90 864px,#d39f8f 888px,#d49f8f 912px,#d59e8d 936px,#d79d8b 960px,#d89b89 984px,#d89987 1008px,#d89685 1032px,#d69184 1056px,#d48b85 1080px,#d38585 1104px,#d18087 1128px,#cf7b89 1152px,#cc778c 1176px,#cb778d 1180px)"></i>
<i style="top:366px;background:linear-gradient(90deg,#826396 0px,#876394 24px,#896292 48px,#88608e 72px,#885e8c 96px,#8b5e8d 120px,#8e608f 144px,#926290 168px,#976591 192px,#9a6791 216px,#9e6991 240px,#a16b92 264px,#a56c92 288px,#a86c92 312px,#ac6d92 336px,#af6d91 360px,#b36d90 384px,#b76d8f 408px,#bc6d8e 432px,#c06e8d 456px,#c36f8b 480px,#c6708a 504px,#c97288 528px,#cb7486 552px,#cb7584 576px,#ca7782 600px,#cb7b82 624px,#ce8284 648px,#d18985 672px,#d48f86 696px,#d59287 720px,#d69689 744px,#d6988b 768px,#d69b8c 792px,#d69d8e 816px,#d59f8f 840px,#d49f8f 864px,#d49f8f 888px,#d59f8e 912px,#d69f8c 936px,#d89d8a 960px,#d99b88 984px,#d99986 1008px,#d99684 1032px,#d89183 1056px,#d68b83 1080px,#d48584 1104px,#d28086 1128px,#d07b88 1152px,#cc778b 1176px,#cc768c 1180px)"></i>
<i style="top:372px;background:linear-gradient(90deg,#836295 0px,#886294 24px,#896191 48px,#895f8d 72px,#885d8b 96px,#8b5d8d 120px,#8e5f8f 144px,#926190 168px,#976390 192px,#9a6590 216px,#9d6790 240px,#a16991 264px,#a56a91 288px,#a86a91 312px,#ac6b91 336px,#af6b90 360px,#b36b90 384px,#b76b8f 408px,#bc6b8e 432px,#c06c8c 456px,#c36d8b 480px,#c66f89 504px,#c97187 528px,#cb7385 552px,#cb7483 576px,#c97681 600px,#cb7b81 624px,#cf8182 648px,#d28884 672px,#d48e85 696px,#d69286 720px,#d69588 744px,#d7988a 768px,#d79b8c 792px,#d79d8d 816px,#d69f8e 840px,#d5a08f 864px,#d49f8e 888px,#d69f8e 912px,#d79f8c 936px,#d99d8a 960px,#d99b87 984px,#da9985 1008px,#da9583 1032px,#d89082 1056px,#d78b82 1080px,#d58583 1104px,#d37f85 1128px,#d07b88 1152px,#cd768b 1176px,#cc768b 1180px)"></i>
<i style="top:378px;background:linear-gradient(90deg,#836094 0px,#886193 24px,#8a6090 48px,#895e8d 72px,#885c8b 96px,#8a5c8c 120px,#8e5e8f 144px,#926090 168px,#966290 192px,#9a6490 216px,#9d6690 240px,#a16790 264px,#a46890 288px,#a86990 312px,#ab6990 336px,#af6990 360px,#b2698f 384px,#b7698e 408px,#bb6a8d 432px,#c06a8c 456px,#c36c8a 480px,#c66e89 504px,#c87087 528px,#ca7284 552px,#ca7382 576px,#c9747f 600px,#cb7a80 624px,#cf8081 648px,#d28782 672px,#d58d84 696px,#d69185 720px,#d79587 744px,#d79889 768px,#d79b8b 792px,#d79d8d 816px,#d79f8e 840px,#d6a08f 864px,#d5a08e 888px,#d7a08d 912px,#d89f8b 936px,#d99d89 960px,#da9b86 984px,#db9884 1008px,#db9582 1032px,#d99081 1056px,#d78a81 1080px,#d58482 1104px,#d37f84 1128px,#d17a87 1152px,#cd768a 1176px,#cc758b 1180px)"></i>
<i style="top:384px;background:linear-gradient(90deg,#835f93 0px,#886092 24px,#8a5f90 48px,#895d8d 72px,#885b8b 96px,#8a5b8c 120px,#8e5d8e 144px,#925e90 168px,#966090 192px,#99628f 216px,#9d648f 240px,#a0658f 264px,#a4668f 288px,#a7678f 312px,#aa678f 336px,#ae678f 360px,#b2678e 384px,#b6688d 408px,#bb688c 432px,#bf698b 456px,#c36a8a 480px,#c56c88 504px,#c86e86 528px,#ca7184 552px,#ca7281 576px,#c9737e 600px,#cb787f 624px,#cf7f80 648px,#d28681 672px,#d58c83 696px,#d69184 720px,#d79486 744px,#d79788 768px,#d89a8a 792px,#d89d8c 816px,#d89f8e 840px,#d7a08e 864px,#d6a08e 888px,#d7a08d 912px,#d99f8b 936px,#da9d88 960px,#db9b85 984px,#db9883 1008px,#db9481 1032px,#da8f80 1056px,#d88980 1080px,#d68482 1104px,#d47e84 1128px,#d17a86 1152px,#cd7589 1176px,#cc758a 1180px)"></i>
<i style="top:390px;background:linear-gradient(90deg,#835d92 0px,#895f91 24px,#8b5e8f 48px,#895c8c 72px,#885a8b 96px,#8a5a8c 120px,#8d5b8e 144px,#915d90 168px,#955f8f 192px,#99618f 216px,#9c628e 240px,#9f638e 264px,#a3648e 288px,#a6658e 312px,#aa658e 336px,#ad658e 360px,#b1668d 384px,#b5668d 408px,#ba668c 432px,#be678a 456px,#c26889 480px,#c56a87 504px,#c76d85 528px,#c96f83 552px,#c97180 576px,#c8727e 600px,#cb777e 624px,#cf7e7f 648px,#d28580 672px,#d58b82 696px,#d69083 720px,#d79385 744px,#d89787 768px,#d89a8a 792px,#d89d8c 816px,#d89f8d 840px,#d8a18e 864px,#d7a18e 888px,#d8a18d 912px,#da9f8b 936px,#da9d88 960px,#db9a85 984px,#db9782 1008px,#db9380 1032px,#da8e7f 1056px,#d8897f 1080px,#d68381 1104px,#d47e83 1128px,#d17986 1152px,#cd7589 1176px,#cc7489 1180px)"></i>
<i style="top:396px;background:linear-gradient(90deg,#825c91 0px,#895d90 24px,#8b5d8e 48px,#895b8c 72px,#88598b 96px,#89598c 120px,#8c5a8e 144px,#905c90 168px,#945d8f 192px,#985f8e 216px,#9b608e 240px,#9e618d 264px,#a2628d 288px,#a5638d 312px,#a9638d 336px,#ac638d 360px,#b0648d 384px,#b4648c 408px,#b9648b 432px,#bd658a 456px,#c16788 480px,#c36986 504px,#c66b85 528px,#c86e82 552px,#c86f80 576px,#c8717d 600px,#cb767d 624px,#ce7d7f 648px,#d28480 672px,#d48a81 696px,#d68f82 720px,#d79285 744px,#d79687 768px,#d89989 792px,#d89d8b 816px,#d99f8d 840px,#d9a18e 864px,#d8a28e 888px,#d9a18c 912px,#da9f8a 936px,#db9c87 960px,#db9984 984px,#db9681 1008px,#db927f 1032px,#da8d7e 1056px,#d8887e 1080px,#d68280 1104px,#d47d82 1128px,#d17885 1152px,#cd7488 1176px,#cc7388 1180px)"></i>
<i style="top:402px;background:linear-gradient(90deg,#825a90 0px,#885c90 24px,#8a5c8e 48px,#895a8b 72px,#88588a 96px,#89588b 120px,#8c598e 144px,#8f5a90 168px,#935c8f 192px,#975d8e 216px,#9a5f8d 240px,#9d5f8c 264px,#a1608c 288px,#a4618c 312px,#a7618c 336px,#ab618c 360px,#af628c 384px,#b3628b 408px,#b8628a 432px,#bc6389 456px,#bf6588 480px,#c26786 504px,#c46a84 528px,#c76c82 552px,#c76e7f 576px,#c7707d 600px,#ca757d 624px,#ce7c7e 648px,#d2837f 672px,#d48980 696px,#d58d82 720px,#d69184 744px,#d79586 768px,#d89888 792px,#d89c8b 816px,#d99f8c 840px,#d9a18e 864px,#daa28e 888px,#daa18c 912px,#db9f8a 936px,#db9c86 960px,#db9883 984px,#db9580 1008px,#da907e 1032px,#d98c7d 1056px,#d8867d 1080px,#d6817f 1104px,#d47c81 1128px,#d17784 1152px,#cd7387 1176px,#cc7288 1180px)"></i>
<i style="top:408px;background:linear-gradient(90deg,#81588e 0px,#885a8f 24px,#8a5a8d 48px,#88588b 72px,#87578a 96px,#88568b 120px,#8b578d 144px,#8e598f 168px,#925a8f 192px,#965c8d 216px,#995d8c 240px,#9c5d8b 264px,#9f5e8b 288px,#a35f8b 312px,#a65f8b 336px,#a95f8b 360px,#ad608b 384px,#b1608a 408px,#b6608a 432px,#bb6188 456px,#be6387 480px,#c06585 504px,#c36883 528px,#c56a81 552px,#c66c7f 576px,#c66f7d 600px,#ca747d 624px,#cd7b7d 648px,#d1817e 672px,#d3877f 696px,#d58c81 720px,#d69083 744px,#d79485 768px,#d79888 792px,#d89b8a 816px,#d99f8c 840px,#daa28e 864px,#dba38e 888px,#dba18c 912px,#db9e89 936px,#db9b86 960px,#db9782 984px,#da937f 1008px,#da8f7d 1032px,#d98a7c 1056px,#d7857c 1080px,#d6807e 1104px,#d37a80 1128px,#d07683 1152px,#cc7186 1176px,#cb7187 1180px)"></i>
<i style="top:414px;background:linear-gradient(90deg,#7f568d 0px,#86588d 24px,#89588c 48px,#87578a 72px,#865589 96px,#87558b 120px,#8a568d 144px,#8d578f 168px,#91598e 192px,#945a8c 216px,#975b8b 240px,#9b5b8a 264px,#9e5c8a 288px,#a15c8a 312px,#a55d8a 336px,#a85d8a 360px,#ab5e8a 384px,#b05e8a 408px,#b45f89 432px,#b95f88 456px,#bc6186 480px,#be6384 504px,#c16683 528px,#c36881 552px,#c46b7e 576px,#c56d7d 600px,#c9737d 624px,#cd797d 648px,#d0807d 672px,#d2867e 696px,#d48a80 720px,#d58e82 744px,#d69285 768px,#d79687 792px,#d89a89 816px,#d99e8c 840px,#dba18d 864px,#dca38e 888px,#dca18c 912px,#db9e89 936px,#db9a85 960px,#da9682 984px,#da917e 1008px,#d98d7c 1032px,#d8887b 1056px,#d6837b 1080px,#d57e7d 1104px,#d3797f 1128px,#d07482 1152px,#cb7085 1176px,#cb7086 1180px)"></i>
<i style="top:420px;background:linear-gradient(90deg,#7e548c 0px,#85568c 24px,#87568b 48px,#865589 72px,#855489 96px,#86548a 120px,#88548c 144px,#8c568e 168px,#8f578d 192px,#93588c 216px,#96598a 240px,#995989 264px,#9c5a89 288px,#a05a89 312px,#a35b89 336px,#a65b8a 360px,#a95c89 384px,#ad5c89 408px,#b25d88 432px,#b65d87 456px,#b95f85 480px,#bc6184 504px,#be6482 528px,#c16780 552px,#c2697e 576px,#c46c7d 600px,#c8717c 624px,#cc787d 648px,#cf7e7d 672px,#d1847e 696px,#d3887f 720px,#d48d81 744px,#d59184 768px,#d69586 792px,#d89989 816px,#d99d8b 840px,#dba18d 864px,#dda38e 888px,#dca18b 912px,#db9d88 936px,#da9884 960px,#d99481 984px,#d9907e 1008px,#d88b7b 1032px,#d7877a 1056px,#d5827a 1080px,#d47c7c 1104px,#d2777e 1128px,#cf7381 1152px,#cb6f84 1176px,#ca6e85 1180px)"></i>
<i style="top:426px;background:linear-gradient(90deg,#7c518a 0px,#82538b 24px,#85548a 48px,#845388 72px,#845288 96px,#855289 120px,#87538c 144px,#8a548d 168px,#8e558c 192px,#91568b 216px,#945789 240px,#975788 264px,#9b5888 288px,#9e5888 312px,#a15988 336px,#a45989 360px,#a75a89 384px,#ab5a88 408px,#af5b87 432px,#b45b86 456px,#b75d84 480px,#b95f83 504px,#bc6281 528px,#be6580 552px,#c0677e 576px,#c36b7c 600px,#c7707c 624px,#ca767c 648px,#ce7c7c 672px,#d0827d 696px,#d1877f 720px,#d38b81 744px,#d48f83 768px,#d59486 792px,#d79888 816px,#d99c8b 840px,#dba08c 864px,#dda38d 888px,#dca08b 912px,#db9b87 936px,#da9784 960px,#d89280 984px,#d78e7d 1008px,#d6897a 1032px,#d58579 1056px,#d48079 1080px,#d37b7b 1104px,#d1767d 1128px,#ce7180 1152px,#ca6d84 1176px,#c96d84 1180px)"></i>
<i style="top:432px;background:linear-gradient(90deg,#7a4f89 0px,#805189 24px,#835289 48px,#835187 72px,#825187 96px,#835189 120px,#85518b 144px,#89528c 168px,#8c538b 192px,#8f548a 216px,#925588 240px,#965587 264px,#995687 288px,#9c5687 312px,#9f5787 336px,#a25788 360px,#a55888 384px,#a95887 408px,#ad5886 432px,#b15985 456px,#b45b83 480px,#b65d82 504px,#b96081 528px,#bc637f 552px,#be657d 576px,#c1697c 600px,#c56e7c 624px,#c9747c 648px,#cc7a7c 672px,#ce807c 696px,#d0847e 720px,#d18980 744px,#d38d82 768px,#d49285 792px,#d69687 816px,#d89b8a 840px,#db9f8c 864px,#dda28d 888px,#dc9f8a 912px,#da9a87 936px,#d99583 960px,#d7907f 984px,#d68b7c 1008px,#d58779 1032px,#d48278 1056px,#d37e78 1080px,#d27979 1104px,#d0747c 1128px,#cd707f 1152px,#c86c83 1176px,#c76b83 1180px)"></i>
<i style="top:438px;background:linear-gradient(90deg,#784d87 0px,#7d4e87 24px,#805087 48px,#804f86 72px,#804f86 96px,#814f88 120px,#84508a 144px,#87518b 168px,#8a528a 192px,#8d5288 216px,#905387 240px,#945386 264px,#975385 288px,#9a5486 312px,#9d5486 336px,#9f5587 360px,#a25687 384px,#a65686 408px,#aa5685 432px,#ad5784 456px,#b15982 480px,#b35b81 504px,#b65e80 528px,#b9617f 552px,#bc637d 576px,#bf677c 600px,#c36c7c 624px,#c7727c 648px,#ca787b 672px,#cc7d7c 696px,#ce827d 720px,#cf877f 744px,#d18b82 768px,#d39084 792px,#d59587 816px,#d79989 840px,#da9d8b 864px,#dca08c 888px,#db9d89 912px,#d99886 936px,#d79382 960px,#d68e7e 984px,#d4897b 1008px,#d38578 1032px,#d28077 1056px,#d17c77 1080px,#d07778 1104px,#ce727b 1128px,#cb6e7e 1152px,#c76a82 1176px,#c66a83 1180px)"></i>
<i style="top:444px;background:linear-gradient(90deg,#754b85 0px,#7b4c86 24px,#7e4d86 48px,#7e4d85 72px,#7e4d85 96px,#804d87 120px,#824e89 144px,#854f8a 168px,#885089 192px,#8b5087 216px,#8e5186 240px,#915184 264px,#955184 288px,#985284 312px,#9a5285 336px,#9d5386 360px,#a05486 384px,#a35485 408px,#a65484 432px,#aa5583 456px,#ad5781 480px,#b05980 504px,#b35c7f 528px,#b65f7e 552px,#b9627d 576px,#bd657c 600px,#c16b7c 624px,#c5707b 648px,#c8757b 672px,#ca7b7b 696px,#cc807c 720px,#ce847e 744px,#cf8981 768px,#d18e83 792px,#d49386 816px,#d69788 840px,#d99b8a 864px,#db9d8b 888px,#da9b89 912px,#d89685 936px,#d69081 960px,#d48b7d 984px,#d3877a 1008px,#d18277 1032px,#d07e76 1056px,#cf7976 1080px,#ce7577 1104px,#cd707a 1128px,#ca6c7d 1152px,#c56981 1176px,#c46882 1180px)"></i>
<i style="top:450px;background:linear-gradient(90deg,#734984 0px,#784a84 24px,#7b4b84 48px,#7c4b84 72px,#7c4b84 96px,#7e4c86 120px,#804c87 144px,#834d88 168px,#864e88 192px,#894f86 216px,#8c4f84 240px,#8f4f83 264px,#924f83 288px,#955083 312px,#985084 336px,#9a5185 360px,#9d5285 384px,#a05284 408px,#a35283 432px,#a65382 456px,#a95580 480px,#ac577f 504px,#af5a7e 528px,#b35d7d 552px,#b65f7c 576px,#ba637c 600px,#bf697c 624px,#c36e7b 648px,#c5737a 672px,#c8787a 696px,#ca7d7c 720px,#cc827e 744px,#ce8780 768px,#d08c83 792px,#d29085 816px,#d59587 840px,#d79989 864px,#d99b89 888px,#d89887 912px,#d79384 936px,#d58e80 960px,#d2897c 984px,#d18479 1008px,#cf7f76 1032px,#ce7b75 1056px,#cd7775 1080px,#cc7276 1104px,#cb6e79 1128px,#c86a7c 1152px,#c36780 1176px,#c36781 1180px)"></i>
<i style="top:456px;background:linear-gradient(90deg,#714782 0px,#754883 24px,#784983 48px,#794983 72px,#7a4983 96px,#7c4a85 120px,#7e4b86 144px,#814b87 168px,#844c86 192px,#874d85 216px,#8a4d83 240px,#8d4d82 264px,#904d81 288px,#934d82 312px,#954e83 336px,#974f84 360px,#9a5084 384px,#9c5083 408px,#9f5082 432px,#a35180 456px,#a6537f 480px,#a9557e 504px,#ac587d 528px,#af5a7d 552px,#b25d7c 576px,#b7617b 600px,#bc667b 624px,#c06b7a 648px,#c3707a 672px,#c5757a 696px,#c77a7b 720px,#c97f7d 744px,#cb847f 768px,#ce8982 792px,#d08e84 816px,#d39386 840px,#d69688 864px,#d79888 888px,#d79586 912px,#d59083 936px,#d38b7f 960px,#d0867b 984px,#ce8178 1008px,#cd7d75 1032px,#cb7874 1056px,#cb7474 1080px,#ca7075 1104px,#c96c78 1128px,#c6687b 1152px,#c16580 1176px,#c16580 1180px)"></i>
<i style="top:462px;background:linear-gradient(90deg,#6e4580 0px,#724681 24px,#754781 48px,#764781 72px,#784882 96px,#794883 120px,#7c4985 144px,#7f4a85 168px,#824a85 192px,#854b83 216px,#874b81 240px,#8a4b80 264px,#8d4b80 288px,#904b81 312px,#924c82 336px,#944d83 360px,#964e83 384px,#994e82 408px,#9c4e81 432px,#9f4f7f 456px,#a2517e 480px,#a5537d 504px,#a8557d 528px,#ab587c 552px,#af5b7b 576px,#b35f7b 600px,#b9647b 624px,#bd697a 648px,#c06d79 672px,#c27379 696px,#c4787a 720px,#c77d7c 744px,#c9827f 768px,#cc8781 792px,#ce8b83 816px,#d19085 840px,#d49387 864px,#d59487 888px,#d59285 912px,#d38d82 936px,#d1887e 960px,#ce837a 984px,#cc7e77 1008px,#ca7a74 1032px,#c97673 1056px,#c87273 1080px,#c76e74 1104px,#c66a76 1128px,#c4667a 1152px,#bf647f 1176px,#be6380 1180px)"></i>
<i style="top:468px;background:linear-gradient(90deg,#6c447f 0px,#70447f 24px,#724580 48px,#744580 72px,#754681 96px,#774682 120px,#7a4783 144px,#7d4884 168px,#804983 192px,#824982 216px,#854980 240px,#87497f 264px,#8a497e 288px,#8d497f 312px,#8f4a81 336px,#914b82 360px,#934c82 384px,#954c81 408px,#984c7f 432px,#9a4d7e 456px,#9d4e7d 480px,#a0517c 504px,#a4537c 528px,#a8567b 552px,#ab597b 576px,#b05c7a 600px,#b5617a 624px,#ba6679 648px,#bc6b78 672px,#bf7078 696px,#c2757a 720px,#c47a7b 744px,#c77f7e 768px,#c98480 792px,#cc8982 816px,#cf8d84 840px,#d19085 864px,#d39185 888px,#d38f84 912px,#d18a80 936px,#ce857d 960px,#cc8079 984px,#c97b76 1008px,#c77773 1032px,#c67372 1056px,#c56f72 1080px,#c56b73 1104px,#c46875 1128px,#c16479 1152px,#bd627e 1176px,#bc627f 1180px)"></i>
<i style="top:474px;background:linear-gradient(90deg,#69427d 0px,#6d427e 24px,#70437e 48px,#71437e 72px,#73447f 96px,#754581 120px,#784582 144px,#7a4682 168px,#7d4782 192px,#804780 216px,#82477e 240px,#85477d 264px,#87477d 288px,#8a477e 312px,#8c4880 336px,#8e4981 360px,#904a81 384px,#924a80 408px,#944a7e 432px,#964b7d 456px,#994c7b 480px,#9c4e7b 504px,#a0517b 528px,#a3547b 552px,#a7577a 576px,#ac5a79 600px,#b15e79 624px,#b66378 648px,#b96777 672px,#bc6d78 696px,#bf7279 720px,#c1777b 744px,#c47c7d 768px,#c7817f 792px,#ca8681 816px,#cd8a83 840px,#cf8d84 864px,#d08d84 888px,#d08b82 912px,#ce877f 936px,#cc827c 960px,#c97c78 984px,#c67875 1008px,#c47372 1032px,#c37071 1056px,#c26c71 1080px,#c26972 1104px,#c16574 1128px,#be6378 1152px,#ba607e 1176px,#b9607e 1180px)"></i>
<i style="top:480px;background:linear-gradient(90deg,#67407b 0px,#6a417c 24px,#6d417d 48px,#6e427d 72px,#70427e 96px,#73437f 120px,#754481 144px,#784481 168px,#7b4580 192px,#7d457f 216px,#7f457d 240px,#82457c 264px,#84457b 288px,#87467d 312px,#88477f 336px,#8a4780 360px,#8c4880 384px,#8e487f 408px,#90487d 432px,#92497b 456px,#954a7a 480px,#984c79 504px,#9b4f79 528px,#9f527a 552px,#a35479 576px,#a85779 600px,#ad5b78 624px,#b26077 648px,#b56476 672px,#b86977 696px,#bb6f78 720px,#be747a 744px,#c1797c 768px,#c47e7e 792px,#c78280 816px,#ca8682 840px,#cc8983 864px,#ce8a83 888px,#ce8781 912px,#cc837e 936px,#c97e7a 960px,#c67977 984px,#c37474 1008px,#c17071 1032px,#c06d70 1056px,#bf6970 1080px,#bf6671 1104px,#be6373 1128px,#bc6177 1152px,#b75e7d 1176px,#b75e7e 1180px)"></i>
<i style="top:486px;background:linear-gradient(90deg,#643f7a 0px,#683f7b 24px,#6a3f7b 48px,#6c407c 72px,#6e407d 96px,#70417e 120px,#73427f 144px,#76437f 168px,#78437f 192px,#7a437d 216px,#7c437b 240px,#7f437a 264px,#81437a 288px,#83447c 312px,#85457e 336px,#87457f 360px,#88467f 384px,#8a467e 408px,#8c467c 432px,#8e477a 456px,#904879 480px,#934a78 504px,#974d78 528px,#9b4f79 552px,#9f5278 576px,#a35578 600px,#a95977 624px,#ae5d76 648px,#b16175 672px,#b56676 696px,#b86b77 720px,#bb7179 744px,#be767b 768px,#c17b7d 792px,#c47f7f 816px,#c78380 840px,#ca8581 864px,#cb8681 888px,#cb837f 912px,#c97f7d 936px,#c67a79 960px,#c37676 984px,#c07173 1008px,#be6d70 1032px,#bc6a6f 1056px,#bc6770 1080px,#bb6471 1104px,#bb6173 1128px,#b85f77 1152px,#b45d7d 1176px,#b45c7e 1180px)"></i>
<i style="top:492px;background:linear-gradient(90deg,#623d78 0px,#653d79 24px,#683e7a 48px,#693e7a 72px,#6b3f7b 96px,#6e3f7d 120px,#71407e 144px,#73417e 168px,#76417d 192px,#78427b 216px,#7a427a 240px,#7b4178 264px,#7d4178 288px,#80427a 312px,#81437d 336px,#83447f 360px,#85447e 384px,#86447c 408px,#87447a 432px,#894478 456px,#8c4677 480px,#8f4877 504px,#934a77 528px,#974d78 552px,#9b5078 576px,#9f5277 600px,#a55676 624px,#aa5975 648px,#ad5e74 672px,#b16375 696px,#b46876 720px,#b86d78 744px,#bb737a 768px,#be777c 792px,#c17c7e 816px,#c47f7f 840px,#c68280 864px,#c88280 888px,#c87f7e 912px,#c67b7b 936px,#c37778 960px,#c07274 984px,#bd6e71 1008px,#bb6a6f 1032px,#b9666f 1056px,#b8646f 1080px,#b86170 1104px,#b75f72 1128px,#b55d77 1152px,#b15b7d 1176px,#b15b7e 1180px)"></i>
<i style="top:498px;background:linear-gradient(90deg,#5f3b77 0px,#623c77 24px,#653c78 48px,#673c79 72px,#693d7a 96px,#6c3e7c 120px,#6f3f7c 144px,#713f7c 168px,#73407b 192px,#75407a 216px,#774078 240px,#784077 264px,#7a4077 288px,#7c4079 312px,#7e417c 336px,#7f427e 360px,#81427d 384px,#82427b 408px,#834279 432px,#854277 456px,#874476 480px,#8a4675 504px,#8e4876 528px,#924b76 552px,#974e77 576px,#9b5076 600px,#a05375 624px,#a55673 648px,#a95b73 672px,#ad6074 696px,#b16576 720px,#b46a78 744px,#b86f79 768px,#bb747b 792px,#be787d 816px,#c17c7e 840px,#c37e7e 864px,#c57e7e 888px,#c47b7d 912px,#c3787a 936px,#c07377 960px,#bd6e73 984px,#ba6a70 1008px,#b7666e 1032px,#b5636e 1056px,#b4616e 1080px,#b45f70 1104px,#b35d72 1128px,#b15b77 1152px,#ae597d 1176px,#ad597e 1180px)"></i>
<i style="top:504px;background:linear-gradient(90deg,#5d3a75 0px,#603a76 24px,#633a77 48px,#653b78 72px,#673b79 96px,#6a3c7a 120px,#6c3d7b 144px,#6f3e7b 168px,#703e7a 192px,#723e78 216px,#733e76 240px,#753e75 264px,#763e75 288px,#783e77 312px,#7a407b 336px,#7c407d 360px,#7d407c 384px,#7e407a 408px,#7f4077 432px,#804075 456px,#824174 480px,#864374 504px,#8a4674 528px,#8e4975 552px,#924c76 576px,#974e75 600px,#9c5074 624px,#a15372 648px,#a55872 672px,#a95d73 696px,#ad6275 720px,#b16777 744px,#b46c79 768px,#b8717a 792px,#bb757b 816px,#be787c 840px,#c07a7d 864px,#c17a7d 888px,#c1777b 912px,#c07479 936px,#bd6f76 960px,#b96b72 984px,#b6666f 1008px,#b3636e 1032px,#b2606d 1056px,#b15e6e 1080px,#b05c70 1104px,#b05b72 1128px,#ae5977 1152px,#ab577d 1176px,#aa577e 1180px)"></i>
<i style="top:510px;background:linear-gradient(90deg,#5a3973 0px,#5d3974 24px,#603976 48px,#633977 72px,#653a78 96px,#683b79 120px,#6a3b7a 144px,#6c3c79 168px,#6e3c78 192px,#6f3c77 216px,#703c75 240px,#723c73 264px,#733c73 288px,#753d76 312px,#763e7a 336px,#783e7b 360px,#793e7a 384px,#7a3e78 408px,#7a3e76 432px,#7c3e74 456px,#7e3f73 480px,#814172 504px,#854473 528px,#8a4774 552px,#8e4a75 576px,#934c75 600px,#984d72 624px,#9c5071 648px,#a15471 672px,#a55972 696px,#a95e74 720px,#ad6476 744px,#b16978 768px,#b46d79 792px,#b7717a 816px,#ba747b 840px,#bd767b 864px,#be767b 888px,#be737a 912px,#bc7077 936px,#b96b74 960px,#b66771 984px,#b2636e 1008px,#b05f6d 1032px,#ae5d6c 1056px,#ad5b6d 1080px,#ac5a6f 1104px,#ac5873 1128px,#aa5778 1152px,#a7567d 1176px,#a7557e 1180px)"></i>
<i style="top:516px;background:linear-gradient(90deg,#583772 0px,#5b3773 24px,#5e3774 48px,#603876 72px,#633877 96px,#653978 120px,#683a78 144px,#6a3a78 168px,#6b3b77 192px,#6c3b75 216px,#6d3b73 240px,#6e3a72 264px,#6f3a71 288px,#713b74 312px,#733c79 336px,#743d7a 360px,#753c79 384px,#763c77 408px,#763c74 432px,#773c72 456px,#793d71 480px,#7d3f71 504px,#814272 528px,#854573 552px,#8a4874 576px,#8f4a74 600px,#934b71 624px,#984d6f 648px,#9c5170 672px,#a15671 696px,#a55b73 720px,#a96075 744px,#ad6577 768px,#b16a78 792px,#b46d79 816px,#b7707a 840px,#b9727a 864px,#ba717a 888px,#ba6f78 912px,#b96c76 936px,#b66773 960px,#b26370 984px,#ae5f6d 1008px,#ac5c6c 1032px,#aa5a6c 1056px,#a9596d 1080px,#a9586f 1104px,#a85673 1128px,#a65578 1152px,#a3547e 1176px,#a3547e 1180px)"></i>
<i style="top:522px;background:linear-gradient(90deg,#553670 0px,#593672 24px,#5c3673 48px,#5e3675 72px,#613776 96px,#633877 120px,#653877 144px,#673977 168px,#683975 192px,#693974 216px,#6a3972 240px,#6b3970 264px,#6c3970 288px,#6d3972 312px,#6f3b78 336px,#703b79 360px,#713b78 384px,#723a75 408px,#723a73 432px,#733a71 456px,#753b70 480px,#783d6f 504px,#7c4070 528px,#814372 552px,#864673 576px,#8b4873 600px,#8f4870 624px,#934a6e 648px,#984e6f 672px,#9d5370 696px,#a15872 720px,#a55d74 744px,#a96276 768px,#ad6677 792px,#b06a78 816px,#b36c78 840px,#b56e78 864px,#b66d78 888px,#b66b77 912px,#b56875 936px,#b26472 960px,#ae606f 984px,#ab5c6d 1008px,#a8596b 1032px,#a6576b 1056px,#a5566d 1080px,#a5556f 1104px,#a45473 1128px,#a25379 1152px,#a0527e 1176px,#a0527f 1180px)"></i>
<i style="top:528px;background:linear-gradient(90deg,#53356f 0px,#563470 24px,#5a3572 48px,#5d3574 72px,#5f3575 96px,#613675 120px,#633776 144px,#653775 168px,#663774 192px,#673772 216px,#673770 240px,#67376f 264px,#68376e 288px,#693871 312px,#6b3977 336px,#6d3977 360px,#6e3976 384px,#6e3974 408px,#6e3871 432px,#6e386f 456px,#70396e 480px,#743b6e 504px,#783d6f 528px,#7d4170 552px,#824473 576px,#874673 600px,#8b466f 624px,#8f476d 648px,#944b6e 672px,#98506f 696px,#9d5572 720px,#a25a74 744px,#a65e75 768px,#a96276 792px,#ad6676 816px,#af6877 840px,#b16a77 864px,#b36977 888px,#b26776 912px,#b16474 936px,#ae6071 960px,#aa5c6e 984px,#a7586c 1008px,#a4556a 1032px,#a2546a 1056px,#a1536c 1080px,#a1536f 1104px,#a05274 1128px,#9e5179 1152px,#9c507e 1176px,#9c507f 1180px)"></i>
<i style="top:534px;background:linear-gradient(90deg,#51336d 0px,#54336f 24px,#583371 48px,#5b3473 72px,#5d3474 96px,#5f3574 120px,#613574 144px,#623674 168px,#633673 192px,#643671 216px,#64366f 240px,#64356d 264px,#64356d 288px,#65366f 312px,#673775 336px,#693776 360px,#6a3775 384px,#6a3772 408px,#6a3670 432px,#6a366e 456px,#6c376c 480px,#70396c 504px,#743b6d 528px,#793f6f 552px,#7e4272 576px,#834472 600px,#86436e 624px,#8a446c 648px,#8f486c 672px,#944d6e 696px,#995271 720px,#9e5673 744px,#a25b74 768px,#a55f75 792px,#a96275 816px,#ab6575 840px,#ad6675 864px,#af6575 888px,#ae6374 912px,#ad6072 936px,#aa5c70 960px,#a6586d 984px,#a3556b 1008px,#a05269 1032px,#9e516a 1056px,#9d506c 1080px,#9d506f 1104px,#9c5074 1128px,#9a507a 1152px,#994f7f 1176px,#984f7f 1180px)"></i>
<i style="top:540px;background:linear-gradient(90deg,#4e326c 0px,#52326e 24px,#563270 48px,#593272 72px,#5b3373 96px,#5d3373 120px,#5f3473 144px,#603472 168px,#613471 192px,#61346f 216px,#61346d 240px,#60346c 264px,#60346b 288px,#61346e 312px,#633573 336px,#653674 360px,#663573 384px,#673571 408px,#66356e 432px,#66356c 456px,#68356b 480px,#6b376b 504px,#70396c 528px,#743d6e 552px,#7a4170 576px,#7f4371 600px,#82416d 624px,#86426b 648px,#8b456b 672px,#904a6e 696px,#954e70 720px,#9a5372 744px,#9e5773 768px,#a25b74 792px,#a55e74 816px,#a76174 840px,#a96274 864px,#ab6174 888px,#aa5f73 912px,#a95c71 936px,#a6586f 960px,#a2556c 984px,#9f516a 1008px,#9c4f69 1032px,#9a4e69 1056px,#9a4e6c 1080px,#994e6f 1104px,#984e74 1128px,#974e7a 1152px,#954d7f 1176px,#954d7f 1180px)"></i>
<i style="top:546px;background:linear-gradient(90deg,#4c316a 0px,#50316c 24px,#54316f 48px,#573171 72px,#593172 96px,#5b3272 120px,#5c3272 144px,#5d3371 168px,#5e3370 192px,#5e336e 216px,#5d326c 240px,#5d326a 264px,#5d326a 288px,#5e336c 312px,#603471 336px,#623472 360px,#633471 384px,#63336f 408px,#63336d 432px,#62336b 456px,#643469 480px,#673569 504px,#6c376a 528px,#703a6c 552px,#763f6f 576px,#7b4170 600px,#7e3f6c 624px,#82406a 648px,#86436b 672px,#8b476d 696px,#914b6f 720px,#965071 744px,#9a5472 768px,#9e5873 792px,#a15b73 816px,#a35d73 840px,#a55e73 864px,#a65d72 888px,#a65b72 912px,#a55870 936px,#a2556e 960px,#9e516b 984px,#9a4e69 1008px,#984c68 1032px,#964b69 1056px,#964b6c 1080px,#964c6f 1104px,#954c74 1128px,#934c7a 1152px,#924b7e 1176px,#924b7f 1180px)"></i>
<i style="top:552px;background:linear-gradient(90deg,#4a3069 0px,#4e306b 24px,#52306e 48px,#553070 72px,#583071 96px,#593071 120px,#5a3171 144px,#5b3170 168px,#5b316e 192px,#5b316c 216px,#5a316b 240px,#5a3169 264px,#593069 288px,#5a316b 312px,#5c326f 336px,#5e3270 360px,#5f326f 384px,#60326e 408px,#5f316b 432px,#5f3169 456px,#603268 480px,#643368 504px,#683569 528px,#6c386a 552px,#723d6e 576px,#773f6f 600px,#7a3e6c 624px,#7d3e69 648px,#82406a 672px,#87446c 696px,#8d486f 720px,#914d71 744px,#965172 768px,#9a5472 792px,#9d5771 816px,#9f5971 840px,#a15a71 864px,#a25a71 888px,#a25870 912px,#a0556f 936px,#9d526d 960px,#9a4e6b 984px,#964b69 1008px,#944968 1032px,#934869 1056px,#92496b 1080px,#924a6f 1104px,#914a74 1128px,#904a7a 1152px,#8e4a7e 1176px,#8e4a7e 1180px)"></i>
<i style="top:558px;background:linear-gradient(90deg,#482f68 0px,#4c2e6a 24px,#502f6d 48px,#542f6f 72px,#562f70 96px,#572f70 120px,#582f6f 144px,#59306e 168px,#59306d 192px,#58306b 216px,#572f69 240px,#562f68 264px,#562f67 288px,#562f69 312px,#58306d 336px,#5b306e 360px,#5c306e 384px,#5c306c 408px,#5c306a 432px,#5b3068 456px,#5d3067 480px,#603267 504px,#643367 528px,#693669 552px,#6e3a6c 576px,#733d6e 600px,#763c6b 624px,#793c68 648px,#7e3e69 672px,#83416b 696px,#88456e 720px,#8d4970 744px,#924d71 768px,#965171 792px,#995370 816px,#9b5570 840px,#9d5670 864px,#9e5670 888px,#9e546f 912px,#9c516e 936px,#994e6c 960px,#964b6a 984px,#924868 1008px,#904667 1032px,#8f4568 1056px,#8f476b 1080px,#8f486f 1104px,#8e4974 1128px,#8c4979 1152px,#8b487d 1176px,#8b487d 1180px)"></i>
<i style="top:564px;background:linear-gradient(90deg,#462d66 0px,#4a2d69 24px,#4f2e6c 48px,#522e6e 72px,#542e6f 96px,#552e6f 120px,#562e6e 144px,#562e6d 168px,#562e6c 192px,#552e6a 216px,#542e68 240px,#532d66 264px,#522d66 288px,#532e68 312px,#552e6b 336px,#572e6c 360px,#592f6c 384px,#592e6a 408px,#592e69 432px,#582e67 456px,#5a2f66 480px,#5d3066 504px,#603266 528px,#653467 552px,#6b386b 576px,#703b6d 600px,#723a6a 624px,#753a67 648px,#793b68 672px,#7f3f6a 696px,#84426d 720px,#89466f 744px,#8e4a70 768px,#924d70 792px,#95506f 816px,#97526e 840px,#99526e 864px,#9a526e 888px,#9a516e 912px,#984e6d 936px,#954b6b 960px,#914869 984px,#8f4568 1008px,#8c4467 1032px,#8b4368 1056px,#8b456c 1080px,#8b4670 1104px,#8b4774 1128px,#894778 1152px,#88477c 1176px,#88477c 1180px)"></i>
<i style="top:570px;background:linear-gradient(90deg,#442c65 0px,#482c68 24px,#4e2d6c 48px,#512d6e 72px,#522c6e 96px,#532c6d 120px,#532c6d 144px,#542d6c 168px,#532d6a 192px,#532d68 216px,#512c67 240px,#502c65 264px,#4f2c65 288px,#4f2c66 312px,#522c69 336px,#542d6a 360px,#562d6a 384px,#562d69 408px,#562d67 432px,#562d66 456px,#572d65 480px,#5a2e64 504px,#5d3064 528px,#613265 552px,#673669 576px,#6c396b 600px,#6f3969 624px,#713866 648px,#753967 672px,#7b3c6a 696px,#80406d 720px,#85436f 744px,#8a476f 768px,#8d4a6f 792px,#914c6e 816px,#934e6d 840px,#954f6d 864px,#964f6d 888px,#954d6d 912px,#944b6c 936px,#91486a 960px,#8d4569 984px,#8b4368 1008px,#894167 1032px,#884168 1056px,#88436c 1080px,#884570 1104px,#874673 1128px,#864677 1152px,#85457b 1176px,#85457b 1180px)"></i>
<i style="top:576px;background:linear-gradient(90deg,#422b64 0px,#472b67 24px,#4c2c6b 48px,#4f2b6d 72px,#502b6d 96px,#512b6c 120px,#512b6b 144px,#512b6a 168px,#512b69 192px,#502b67 216px,#4e2b65 240px,#4d2a64 264px,#4c2a63 288px,#4c2a65 312px,#4e2b67 336px,#512b68 360px,#532b68 384px,#532c67 408px,#532c66 432px,#532c64 456px,#542c64 480px,#572d63 504px,#5a2e63 528px,#5e3064 552px,#643568 576px,#69386a 600px,#6b3768 624px,#6d3666 648px,#713766 672px,#773a69 696px,#7c3d6c 720px,#81406e 744px,#86446e 768px,#89476d 792px,#8c496c 816px,#8f4a6c 840px,#914b6c 864px,#924b6c 888px,#914a6c 912px,#90486b 936px,#8d456a 960px,#894268 984px,#874067 1008px,#853f67 1032px,#853f69 1056px,#85426c 1080px,#854370 1104px,#844473 1128px,#834476 1152px,#82447a 1176px,#82447a 1180px)"></i>
<i style="top:582px;background:linear-gradient(90deg,#412b63 0px,#452a66 24px,#4b2b6b 48px,#4e2a6c 72px,#4f2a6c 96px,#4f2a6b 120px,#4f2a6a 144px,#4f2a69 168px,#4e2a68 192px,#4d2a66 216px,#4c2964 240px,#4a2962 264px,#492962 288px,#492963 312px,#4b2965 336px,#4e2966 360px,#502a66 384px,#502a66 408px,#502a65 432px,#502b63 456px,#512b63 480px,#542c62 504px,#572d62 528px,#5b2e63 552px,#613367 576px,#67366a 600px,#683667 624px,#693465 648px,#6d3565 672px,#733768 696px,#783a6c 720px,#7d3d6d 744px,#82416d 768px,#85436c 792px,#88456b 816px,#8b476b 840px,#8c486b 864px,#8d486b 888px,#8d476b 912px,#8b456a 936px,#894269 960px,#854068 984px,#833e67 1008px,#823d68 1032px,#823e69 1056px,#82406d 1080px,#824270 1104px,#824373 1128px,#804376 1152px,#7f4279 1176px,#7f4279 1180px)"></i>
<i style="top:588px;background:linear-gradient(90deg,#3f2a62 0px,#442a66 24px,#4a2a6a 48px,#4c296b 72px,#4d296b 96px,#4c286a 120px,#4c2869 144px,#4c2968 168px,#4c2966 192px,#4b2865 216px,#492863 240px,#472861 264px,#462761 288px,#462761 312px,#482763 336px,#4b2864 360px,#4d2865 384px,#4e2964 408px,#4e2963 432px,#4e2962 456px,#4f2a62 480px,#512a62 504px,#542b61 528px,#582d62 552px,#5f3266 576px,#643569 600px,#653467 624px,#653264 648px,#693365 672px,#6f3568 696px,#74386b 720px,#793b6d 744px,#7e3e6c 768px,#81406b 792px,#84426a 816px,#864469 840px,#884469 864px,#89446a 888px,#89446a 912px,#87426a 936px,#854069 960px,#823d68 984px,#803c68 1008px,#7f3c68 1032px,#7f3d6a 1056px,#803f6d 1080px,#804171 1104px,#7f4173 1128px,#7e4175 1152px,#7d4178 1176px,#7d4179 1180px)"></i>
<i style="top:594px;background:linear-gradient(90deg,#3e2962 0px,#432965 24px,#49296a 48px,#4b286b 72px,#4b276a 96px,#4a2768 120px,#4a2767 144px,#4a2766 168px,#492765 192px,#482763 216px,#462761 240px,#442660 264px,#43265f 288px,#432660 312px,#462661 336px,#492663 360px,#4b2763 384px,#4b2763 408px,#4b2862 432px,#4b2861 456px,#4c2961 480px,#4e2961 504px,#512a61 528px,#552c61 552px,#5c3066 576px,#623469 600px,#623366 624px,#623163 648px,#653164 672px,#6b3367 696px,#70356a 720px,#75386c 744px,#7a3b6c 768px,#7d3d6a 792px,#803f69 816px,#824068 840px,#844168 864px,#854169 888px,#854169 912px,#833f69 936px,#813d69 960px,#7e3b68 984px,#7d3a68 1008px,#7c3a69 1032px,#7d3c6b 1056px,#7d3e6e 1080px,#7d4071 1104px,#7c4073 1128px,#7b4075 1152px,#7a4078 1176px,#7a4078 1180px)"></i>
<i style="top:600px;background:linear-gradient(90deg,#3d2861 0px,#422865 24px,#482869 48px,#49276a 72px,#492668 96px,#482567 120px,#482566 144px,#482665 168px,#472664 192px,#452662 216px,#442560 240px,#42255f 264px,#40245e 288px,#40245f 312px,#432460 336px,#462561 360px,#482561 384px,#492661 408px,#492761 432px,#492760 456px,#4a2860 480px,#4c2860 504px,#4f2960 528px,#532b61 552px,#5a3066 576px,#603369 600px,#5f3266 624px,#5e2f62 648px,#622f63 672px,#673166 696px,#6c3369 720px,#71356b 744px,#76386b 768px,#793a69 792px,#7c3c68 816px,#7e3d67 840px,#803e67 864px,#813e68 888px,#813e69 912px,#803c69 936px,#7d3b68 960px,#7b3968 984px,#793868 1008px,#793969 1032px,#7a3b6c 1056px,#7b3d6f 1080px,#7b3f72 1104px,#7a3f74 1128px,#793f75 1152px,#783f78 1176px,#783e78 1180px)"></i>
<i style="top:606px;background:linear-gradient(90deg,#3c2861 0px,#412864 24px,#472869 48px,#472669 72px,#462567 96px,#462466 120px,#452465 144px,#452464 168px,#442562 192px,#432461 216px,#41245f 240px,#3f235e 264px,#3e235d 288px,#3e235d 312px,#41235e 336px,#44235f 360px,#452460 384px,#462560 408px,#47265f 432px,#47265f 456px,#48275f 480px,#492760 504px,#4c285f 528px,#512a61 552px,#582f66 576px,#5e3269 600px,#5d3166 624px,#5b2e62 648px,#5e2d63 672px,#632f65 696px,#693068 720px,#6e336a 744px,#72356a 768px,#753768 792px,#783967 816px,#7a3a66 840px,#7c3b66 864px,#7d3b67 888px,#7d3b68 912px,#7c3a68 936px,#7a3868 960px,#773768 984px,#763768 1008px,#77386a 1032px,#783a6d 1056px,#783c70 1080px,#793e73 1104px,#783e74 1128px,#763e75 1152px,#753d78 1176px,#753d78 1180px)"></i>
<i style="top:612px;background:linear-gradient(90deg,#3b2760 0px,#402764 24px,#452768 48px,#462567 72px,#442365 96px,#432364 120px,#432363 144px,#432362 168px,#422361 192px,#40235f 216px,#3e225e 240px,#3c225c 264px,#3b225c 288px,#3c215c 312px,#3e215d 336px,#41225e 360px,#43235e 384px,#44245e 408px,#44255e 432px,#45255e 456px,#45265e 480px,#47265f 504px,#4a275f 528px,#4f2961 552px,#562e66 576px,#5c326a 600px,#5a3066 624px,#582c61 648px,#5b2c62 672px,#602d65 696px,#652e67 720px,#6a3069 744px,#6e3369 768px,#713567 792px,#743666 816px,#763765 840px,#783865 864px,#793966 888px,#793867 912px,#783868 936px,#763668 960px,#743568 984px,#743669 1008px,#74376b 1032px,#75396e 1056px,#763c71 1080px,#763d74 1104px,#753d75 1128px,#743d76 1152px,#733c78 1176px,#733c78 1180px)"></i>
<i style="top:618px;background:linear-gradient(90deg,#3a2660 0px,#3f2763 24px,#442667 48px,#432466 72px,#422264 96px,#412162 120px,#402162 144px,#402261 168px,#3f2260 192px,#3e215e 216px,#3c215c 240px,#3a215b 264px,#39205a 288px,#39205a 312px,#3c205b 336px,#3f205c 360px,#40215d 384px,#41235d 408px,#42245d 432px,#42245d 456px,#43255e 480px,#45255e 504px,#47265e 528px,#4c2860 552px,#542d66 576px,#5b316a 600px,#582f66 624px,#562b61 648px,#582a61 672px,#5c2b64 696px,#612c66 720px,#662e68 744px,#6a3068 768px,#6d3266 792px,#703365 816px,#723464 840px,#743565 864px,#753666 888px,#753667 912px,#753568 936px,#733468 960px,#713468 984px,#713469 1008px,#72366c 1032px,#73386f 1056px,#743b72 1080px,#743d74 1104px,#733d75 1128px,#713c76 1152px,#713b78 1176px,#703b78 1180px)"></i>
<i style="top:624px;background:linear-gradient(90deg,#39255f 0px,#3e2662 24px,#422565 48px,#412364 72px,#3f2162 96px,#3e2061 120px,#3e2060 144px,#3e205f 168px,#3d205e 192px,#3b205d 216px,#39205b 240px,#381f5a 264px,#371f59 288px,#371f59 312px,#3a1f5a 336px,#3c1f5b 360px,#3e205b 384px,#3f215c 408px,#40235c 432px,#40235c 456px,#41245d 480px,#42245d 504px,#45255e 528px,#492760 552px,#522c65 576px,#59306a 600px,#562d66 624px,#532a61 648px,#552861 672px,#592963 696px,#5e2a65 720px,#622c67 744px,#662e67 768px,#6a2f65 792px,#6c3164 816px,#6f3264 840px,#703364 864px,#723365 888px,#723466 912px,#713367 936px,#703368 960px,#6f3269 984px,#6e336a 1008px,#6f356d 1032px,#713870 1056px,#723b73 1080px,#723c75 1104px,#713c76 1128px,#6f3b77 1152px,#6e3a78 1176px,#6e3a79 1180px)"></i>
<i style="top:630px;background:linear-gradient(90deg,#38255e 0px,#3c2561 24px,#3f2464 48px,#3f2163 72px,#3d1f60 96px,#3c1f5f 120px,#3c1f5e 144px,#3b1f5e 168px,#3a1f5d 192px,#391f5b 216px,#371e5a 240px,#351e59 264px,#351d58 288px,#351d58 312px,#371d58 336px,#3a1e59 360px,#3b1f5a 384px,#3d205a 408px,#3d225b 432px,#3e225b 456px,#3e235c 480px,#40235d 504px,#42235d 528px,#47265f 552px,#4f2a64 576px,#562f6a 600px,#532c65 624px,#502861 648px,#522760 672px,#552762 696px,#5a2864 720px,#5e2966 744px,#622b66 768px,#662d65 792px,#692e63 816px,#6b2f63 840px,#6d3063 864px,#6e3165 888px,#6e3166 912px,#6e3167 936px,#6d3168 960px,#6c3169 984px,#6c326b 1008px,#6d346d 1032px,#6f3771 1056px,#703a74 1080px,#703c76 1104px,#6f3b77 1128px,#6d3a77 1152px,#6c3979 1176px,#6c3979 1180px)"></i>
<i style="top:636px;background:linear-gradient(90deg,#36245d 0px,#3b2460 24px,#3d2362 48px,#3c2061 72px,#3a1e5f 96px,#391d5e 120px,#391d5d 144px,#391d5c 168px,#381d5b 192px,#361d5a 216px,#351d59 240px,#331c57 264px,#321c57 288px,#331c57 312px,#351c57 336px,#371d58 360px,#391e58 384px,#3a1f59 408px,#3b2159 432px,#3c215a 456px,#3c215b 480px,#3d225c 504px,#3f225c 528px,#44245e 552px,#4b2862 576px,#532d69 600px,#502a64 624px,#4e2760 648px,#4f2560 672px,#522561 696px,#562663 720px,#5b2764 744px,#5f2964 768px,#622a64 792px,#652c63 816px,#672d62 840px,#692e63 864px,#6a2f64 888px,#6b2f65 912px,#6a2f67 936px,#6a2f68 960px,#693069 984px,#69316b 1008px,#6b336e 1032px,#6d3772 1056px,#6e3a76 1080px,#6e3b77 1104px,#6d3a78 1128px,#6b3978 1152px,#6a3879 1176px,#6a3879 1180px)"></i>
<i style="top:642px;background:linear-gradient(90deg,#35235c 0px,#39235f 24px,#3b2160 48px,#3a1f5f 72px,#381c5d 96px,#371c5c 120px,#371c5b 144px,#361c5b 168px,#351c5a 192px,#341c59 216px,#321c57 240px,#311b56 264px,#301b56 288px,#311b55 312px,#331b56 336px,#351b56 360px,#361c57 384px,#381e58 408px,#391f58 432px,#392059 456px,#3a2059 480px,#3b205a 504px,#3c215b 528px,#40225c 552px,#462660 576px,#4e2a66 600px,#4d2863 624px,#4b2560 648px,#4c245f 672px,#4f2360 696px,#532462 720px,#572563 744px,#5b2763 768px,#5e2863 792px,#612962 816px,#632a62 840px,#652c62 864px,#672c64 888px,#672d65 912px,#672d67 936px,#672e68 960px,#662e69 984px,#67306c 1008px,#68336f 1032px,#6a3673 1056px,#6c3977 1080px,#6c3a78 1104px,#6b3a79 1128px,#693879 1152px,#68377a 1176px,#68377a 1180px)"></i>
<i style="top:648px;background:linear-gradient(90deg,#33225b 0px,#37215e 24px,#38205f 48px,#371d5d 72px,#351b5b 96px,#341a5a 120px,#341a5a 144px,#341b59 168px,#331b58 192px,#311b57 216px,#301a56 240px,#2f1a55 264px,#2e1a54 288px,#2f1954 312px,#301a54 336px,#321a55 360px,#341b56 384px,#351d56 408px,#361e57 432px,#371f57 456px,#371f58 480px,#381f59 504px,#3a1f5a 528px,#3d215b 552px,#42235d 576px,#482762 600px,#492661 624px,#48235f 648px,#49225e 672px,#4c2160 696px,#502261 720px,#542362 744px,#572462 768px,#5b2662 792px,#5e2761 816px,#602861 840px,#622962 864px,#632a63 888px,#642b65 912px,#642b66 936px,#642c68 960px,#642d6a 984px,#642f6c 1008px,#663270 1032px,#683574 1056px,#6a3977 1080px,#6a3a79 1104px,#693979 1128px,#673779 1152px,#66367a 1176px,#66367a 1180px)"></i>
<i style="top:654px;background:linear-gradient(90deg,#31215a 0px,#34205c 24px,#361f5d 48px,#351c5b 72px,#331a5a 96px,#321959 120px,#321958 144px,#311958 168px,#301957 192px,#2f1956 216px,#2e1955 240px,#2c1854 264px,#2c1853 288px,#2c1853 312px,#2e1853 336px,#301954 360px,#321a54 384px,#331c55 408px,#341d56 432px,#351e56 456px,#351e57 480px,#351e58 504px,#371e58 528px,#391f59 552px,#3d205b 576px,#42235f 600px,#452460 624px,#45225e 648px,#46205e 672px,#48205f 696px,#4c2060 720px,#502161 744px,#542261 768px,#572461 792px,#5a2561 816px,#5c2661 840px,#5e2761 864px,#602863 888px,#602964 912px,#612a66 936px,#612a68 960px,#612c6a 984px,#622e6d 1008px,#643170 1032px,#663474 1056px,#683878 1080px,#68397a 1104px,#67387a 1128px,#65377a 1152px,#64357b 1176px,#64357b 1180px)"></i>
<i style="top:660px;background:linear-gradient(90deg,#2f2059 0px,#321f5b 24px,#331d5b 48px,#321b5a 72px,#301958 96px,#301857 120px,#2f1857 144px,#2f1856 168px,#2e1856 192px,#2d1855 216px,#2b1853 240px,#2a1753 264px,#2a1752 288px,#2a1752 312px,#2c1752 336px,#2d1852 360px,#2f1953 384px,#301a54 408px,#311c54 432px,#321d55 456px,#321c56 480px,#331c56 504px,#341c57 528px,#361d57 552px,#391e59 576px,#3e205c 600px,#41215e 624px,#41205d 648px,#431e5d 672px,#451e5e 696px,#491e5f 720px,#4d1f60 744px,#502060 768px,#542160 792px,#562360 816px,#592460 840px,#5b2561 864px,#5c2662 888px,#5d2764 912px,#5e2866 936px,#5e2968 960px,#5e2b6a 984px,#602d6d 1008px,#613071 1032px,#643475 1056px,#663779 1080px,#66387a 1104px,#65377a 1128px,#63367a 1152px,#62357b 1176px,#62357b 1180px)"></i>
<i style="top:666px;background:linear-gradient(90deg,#2d1e58 0px,#301e59 24px,#311c5a 48px,#301a58 72px,#2e1857 96px,#2d1756 120px,#2d1755 144px,#2c1755 168px,#2b1754 192px,#2a1653 216px,#291652 240px,#281651 264px,#281651 288px,#281651 312px,#291651 336px,#2b1751 360px,#2d1852 384px,#2e1952 408px,#2f1a53 432px,#2f1b54 456px,#2f1b54 480px,#301b55 504px,#311b55 528px,#321b56 552px,#351c57 576px,#391e59 600px,#3d1f5c 624px,#3e1e5c 648px,#3f1d5c 672px,#421c5d 696px,#461c5e 720px,#491d5f 744px,#4d1e5f 768px,#501f5f 792px,#53215f 816px,#552260 840px,#572361 864px,#592462 888px,#5a2564 912px,#5b2666 936px,#5b2868 960px,#5c296a 984px,#5d2c6d 1008px,#5f2f71 1032px,#623375 1056px,#633679 1080px,#64377b 1104px,#63367b 1128px,#61357b 1152px,#60347b 1176px,#60347c 1180px)"></i>
<i style="top:672px;background:linear-gradient(90deg,#2b1d57 0px,#2e1c58 24px,#2e1b58 48px,#2d1857 72px,#2c1755 96px,#2b1655 120px,#2b1554 144px,#2a1554 168px,#291553 192px,#281552 216px,#271551 240px,#261550 264px,#251450 288px,#26144f 312px,#271550 336px,#291550 360px,#2a1750 384px,#2b1851 408px,#2c1952 432px,#2d1a52 456px,#2d1a53 480px,#2d1954 504px,#2e1954 528px,#2f1954 552px,#311a55 576px,#351b57 600px,#391c5a 624px,#3a1c5a 648px,#3c1b5b 672px,#3f1a5c 696px,#421b5d 720px,#461b5e 744px,#4a1c5f 768px,#4d1d5f 792px,#501f5f 816px,#52205f 840px,#542160 864px,#562262 888px,#572464 912px,#582566 936px,#582668 960px,#59286b 984px,#5b2b6e 1008px,#5d2e72 1032px,#5f3276 1056px,#613579 1080px,#61367b 1104px,#60357b 1128px,#5f347b 1152px,#5e337c 1176px,#5e337c 1180px)"></i>
</div></div>

<div class="box" style="left:47px;top:23px;width:551px;height:42px"></div>
<div class="box" style="left:612px;top:23px;width:306px;height:42px"></div>
<div class="box" style="left:917.6px;top:22px;width:259.9px;height:42.5px;border-top-color:rgba(170,108,188,.35)"></div>
<div class="box" style="left:30.5px;top:73px;width:138.5px;height:99.5px"></div>
<div class="box" style="left:179px;top:75px;width:137.3px;height:98px"></div>
<div class="box" style="left:327px;top:76px;width:134px;height:96px"></div>
<div class="box" style="left:470px;top:77px;width:128.8px;height:95.5px"></div>
<div class="box" style="left:31px;top:192px;width:305px;height:229px"></div>
<div class="box" style="left:352px;top:192.8px;width:251px;height:229.2px"></div>
<div class="box" style="left:31px;top:432.6px;width:306px;height:218px"></div>
<div class="box" style="left:352.3px;top:433.2px;width:247.7px;height:217.4px"></div>
<div class="box" style="left:612px;top:75px;width:555px;height:318px"></div>
<div class="box" style="left:612px;top:403px;width:555px;height:256px"></div>

<svg id="ov" width="1200" height="694" viewBox="0 0 1200 694" style="position:absolute;left:0;top:0">
<defs><clipPath id="kc"><rect x="0" y="0" width="1200" height="165"/></clipPath></defs>
<text x="122.11" y="51.00" textLength="401.89" lengthAdjust="spacingAndGlyphs" class="t0" style="font-size:20.50px;font-weight:bold">MDALI ECOMMERCE SALES DASHBOARD</text>
<rect x="638.8" y="34.6" width="60.4" height="22.6" fill="#fdfdfb" stroke="#10101e" stroke-width="2"/>
<text x="656.27" y="49.90" textLength="25.29" lengthAdjust="spacingAndGlyphs" class="q" style="font-size:10.00px;font-weight:bold">Qtr 1</text>
<rect x="703.1" y="34.6" width="60.7" height="22.6" fill="#fdfdfb" stroke="#10101e" stroke-width="2"/>
<text x="720.71" y="49.90" textLength="25.46" lengthAdjust="spacingAndGlyphs" class="q" style="font-size:10.00px;font-weight:bold">Qtr 2</text>
<rect x="768.8" y="34.6" width="59.0" height="22.6" fill="#fdfdfb" stroke="#10101e" stroke-width="2"/>
<text x="785.56" y="49.90" textLength="25.41" lengthAdjust="spacingAndGlyphs" class="q" style="font-size:10.00px;font-weight:bold">Qtr 3</text>
<rect x="832.8" y="34.6" width="59.4" height="22.6" fill="#fdfdfb" stroke="#10101e" stroke-width="2"/>
<text x="849.77" y="49.90" textLength="25.07" lengthAdjust="spacingAndGlyphs" class="q" style="font-size:10.00px;font-weight:bold">Qtr 4</text>
<rect x="930.5" y="33.5" width="236" height="24.5" fill="none" stroke="#cfc6f2" stroke-width="1.3"/>
<text x="935.20" y="51.00" text-anchor="start" textLength="12.78" lengthAdjust="spacingAndGlyphs" class="dd" style="font-size:11.50px">All</text>
<path d="M1148.6 43l6.3 6.2l6.3 -6.2" fill="none" stroke="#c4bced" stroke-width="1"/>
<text x="45.17" y="136.40" textLength="23.13" lengthAdjust="spacingAndGlyphs" class="kv" style="font-size:49.00px">4</text>
<text x="71.90" y="136.40" textLength="22.25" lengthAdjust="spacingAndGlyphs" class="kv" style="font-size:49.00px">3</text>
<text x="98.09" y="136.40" textLength="23.67" lengthAdjust="spacingAndGlyphs" class="kv" style="font-size:49.00px">8</text>
<text x="124.31" y="136.40" textLength="30.74" lengthAdjust="spacingAndGlyphs" class="kv" style="font-size:49.00px">K</text>
<text x="195.86" y="137.10" textLength="22.83" lengthAdjust="spacingAndGlyphs" class="kv" style="font-size:49.00px">5</text>
<text x="222.40" y="137.10" textLength="23.32" lengthAdjust="spacingAndGlyphs" class="kv" style="font-size:49.00px">6</text>
<text x="248.78" y="137.10" textLength="15.98" lengthAdjust="spacingAndGlyphs" class="kv" style="font-size:49.00px;font-weight:bold">1</text>
<text x="278.90" y="137.10" textLength="22.25" lengthAdjust="spacingAndGlyphs" class="kv" style="font-size:49.00px">5</text>
<text x="352.10" y="137.30" textLength="22.89" lengthAdjust="spacingAndGlyphs" class="kv" style="font-size:49.00px">3</text>
<text x="379.15" y="137.30" textLength="23.41" lengthAdjust="spacingAndGlyphs" class="kv" style="font-size:49.00px">7</text>
<text x="404.07" y="137.30" textLength="31.90" lengthAdjust="spacingAndGlyphs" class="kv" style="font-size:49.00px">K</text>
<text x="480.78" y="137.70" textLength="15.98" lengthAdjust="spacingAndGlyphs" class="kv" style="font-size:49.00px;font-weight:bold">1</text>
<text x="506.80" y="137.70" textLength="24.45" lengthAdjust="spacingAndGlyphs" class="kv" style="font-size:49.00px">2</text>
<text x="533.78" y="137.70" textLength="15.98" lengthAdjust="spacingAndGlyphs" class="kv" style="font-size:49.00px;font-weight:bold">1</text>
<text x="558.31" y="137.70" textLength="30.74" lengthAdjust="spacingAndGlyphs" class="kv" style="font-size:49.00px">K</text>
<text x="49.34" y="162.75" textLength="100.77" lengthAdjust="spacingAndGlyphs" class="kl" style="font-size:13.60px">Sum of Amount</text>
<text x="195.10" y="163.70" textLength="104.10" lengthAdjust="spacingAndGlyphs" class="kl" style="font-size:13.60px" clip-path="url(#kc)">Sum of Quantity</text>
<text x="351.25" y="164.10" textLength="83.09" lengthAdjust="spacingAndGlyphs" class="kl" style="font-size:13.60px">Sum of Profit</text>
<text x="495.62" y="165.30" textLength="77.19" lengthAdjust="spacingAndGlyphs" class="kl" style="font-size:13.60px">Sum of AOV</text>
<text x="93.02" y="211.30" textLength="186.74" lengthAdjust="spacingAndGlyphs" class="ct" style="font-size:17.00px;font-weight:bold">Sum of Amount by State</text>
<text x="370.92" y="212.00" textLength="219.15" lengthAdjust="spacingAndGlyphs" class="ct" style="font-size:17.00px;font-weight:bold">Sum of Quantity by Category</text>
<text x="53.52" y="453.00" textLength="267.06" lengthAdjust="spacingAndGlyphs" class="ct" style="font-size:17.00px;font-weight:bold">Sum of Amount by CustomerName</text>
<text x="405.83" y="453.00" textLength="144.69" lengthAdjust="spacingAndGlyphs" class="ct" style="font-size:17.00px;font-weight:bold">Sum of Quantity by</text>
<text x="423.55" y="472.50" textLength="109.51" lengthAdjust="spacingAndGlyphs" class="ct" style="font-size:17.00px;font-weight:bold">PaymentMode</text>
<text x="819.68" y="93.60" textLength="145.11" lengthAdjust="spacingAndGlyphs" class="ct" style="font-size:17.00px;font-weight:bold">PROFIT BY MONTH</text>
<text x="774.11" y="421.10" textLength="235.79" lengthAdjust="spacingAndGlyphs" class="ct" style="font-size:17.00px;font-weight:bold">Sum of Profit by Sub-Category</text>
<rect x="132" y="239.4" width="126.5" height="28.1" fill="#72b4ec"/>
<text x="63.14" y="257.80" textLength="60.25" lengthAdjust="spacingAndGlyphs" class="sl" style="font-size:11.70px">Maharashtra</text>
<rect x="132" y="271.9" width="107.7" height="28.1" fill="#72b4ec"/>
<text x="43.55" y="289.60" textLength="80.55" lengthAdjust="spacingAndGlyphs" class="sl" style="font-size:11.70px">Madhya Pradesh</text>
<rect x="132" y="304.0" width="47.0" height="28.0" fill="#72b4ec"/>
<text x="57.59" y="322.40" textLength="66.50" lengthAdjust="spacingAndGlyphs" class="sl" style="font-size:11.70px">Uttar Pradesh</text>
<rect x="132" y="336.0" width="27.8" height="28.4" fill="#72b4ec"/>
<text x="98.71" y="354.20" textLength="25.46" lengthAdjust="spacingAndGlyphs" class="sl" style="font-size:11.70px">Delhi</text>
<text x="120.04" y="391.70" textLength="25.41" lengthAdjust="spacingAndGlyphs" class="ax" style="font-size:10.20px">0.0M</text>
<text x="243.75" y="391.70" textLength="24.77" lengthAdjust="spacingAndGlyphs" class="ax" style="font-size:10.20px">0.1M</text>
<line x1="132" y1="408.3" x2="317" y2="408.3" stroke="#3e3a46" stroke-width="3.2"/>
<circle cx="132" cy="408.3" r="5.7" fill="#fff" stroke="#3a3440" stroke-width="2"/>
<circle cx="317" cy="408.3" r="5.7" fill="#fff" stroke="#3a3440" stroke-width="2"/>
<path d="M478.50 248.30A68.30 68.30 0 1 1 429.90 364.59L450.04 344.71A40.00 40.00 0 1 0 478.50 276.60Z" fill="#118dff"/>
<path d="M429.90 364.59A68.30 68.30 0 0 1 419.07 282.95L443.69 296.89A40.00 40.00 0 0 0 450.04 344.71Z" fill="#05f0de"/>
<path d="M419.07 282.95A68.30 68.30 0 0 1 478.50 248.30L478.50 276.60A40.00 40.00 0 0 0 443.69 296.89Z" fill="#12239e"/>
<g fill="none" stroke="#a08aa0" stroke-width="0.8" opacity="0.6"><polyline points="427,250 441,253"/><polyline points="396,350 412,346"/><polyline points="492,385 492,391 505,391"/></g>
<text x="376.62" y="247.70" textLength="49.16" lengthAdjust="spacingAndGlyphs" class="dl" style="font-size:11.80px">Furniture</text>
<text x="402.53" y="263.30" textLength="23.09" lengthAdjust="spacingAndGlyphs" class="dl" style="font-size:11.80px">17%</text>
<text x="361.09" y="348.00" textLength="34.86" lengthAdjust="spacingAndGlyphs" class="dl" style="font-size:11.80px">Elect...</text>
<text x="372.12" y="363.50" textLength="23.20" lengthAdjust="spacingAndGlyphs" class="dl" style="font-size:11.80px">21%</text>
<text x="506.88" y="389.20" textLength="45.72" lengthAdjust="spacingAndGlyphs" class="dl" style="font-size:11.80px">Clothing</text>
<text x="506.91" y="404.60" textLength="23.52" lengthAdjust="spacingAndGlyphs" class="dl" style="font-size:11.80px">63%</text>
<line x1="43.1" y1="468.1" x2="43.1" y2="575.9" stroke="#3e3a46" stroke-width="3"/>
<circle cx="43.1" cy="468.1" r="5.7" fill="#fff" stroke="#342e3c" stroke-width="2"/>
<circle cx="43.1" cy="575.9" r="5.7" fill="#fff" stroke="#342e3c" stroke-width="2"/>
<text x="59.46" y="473.10" textLength="17.58" lengthAdjust="spacingAndGlyphs" class="ax" style="font-size:10.00px">10K</text>
<text x="65.83" y="526.50" textLength="11.19" lengthAdjust="spacingAndGlyphs" class="ax" style="font-size:10.00px">5K</text>
<text x="65.83" y="579.50" textLength="11.19" lengthAdjust="spacingAndGlyphs" class="ax" style="font-size:10.00px">0K</text>
<rect x="107.2" y="469.4" width="46.1" height="106.4" fill="#d0e79a"/>
<text x="125.75" y="587.00" text-anchor="end" textLength="49.35" lengthAdjust="spacingAndGlyphs" class="rl" style="font-size:11.30px" transform="rotate(-35.5 125.75 587.00)">Harivansh</text>
<rect x="159.0" y="475.0" width="45.8" height="100.8" fill="#d0e79a"/>
<text x="177.40" y="587.00" text-anchor="end" textLength="39.00" lengthAdjust="spacingAndGlyphs" class="rl" style="font-size:11.30px" transform="rotate(-35.5 177.40 587.00)">Madhav</text>
<rect x="211.0" y="492.8" width="45.7" height="83.0" fill="#d0e79a"/>
<text x="229.35" y="587.00" text-anchor="end" textLength="70.08" lengthAdjust="spacingAndGlyphs" class="rl" style="font-size:11.30px" transform="rotate(-35.5 229.35 587.00)">Madan Mohan</text>
<rect x="262.4" y="507.5" width="45.8" height="68.3" fill="#d0e79a"/>
<text x="280.80" y="587.00" text-anchor="end" textLength="27.42" lengthAdjust="spacingAndGlyphs" class="rl" style="font-size:11.30px" transform="rotate(-35.5 280.80 587.00)">Shiva</text>
<path d="M475.70 501.50A59.50 59.50 0 0 1 497.60 616.32L488.84 594.19A35.70 35.70 0 0 0 475.70 525.30Z" fill="#118dff"/>
<path d="M497.60 616.32A59.50 59.50 0 0 1 427.56 595.97L446.82 581.98A35.70 35.70 0 0 0 488.84 594.19Z" fill="#12239e"/>
<path d="M427.56 595.97A59.50 59.50 0 0 1 417.25 549.85L440.63 554.31A35.70 35.70 0 0 0 446.82 581.98Z" fill="#e66c37"/>
<path d="M417.25 549.85A59.50 59.50 0 0 1 440.73 512.86L454.72 532.12A35.70 35.70 0 0 0 440.63 554.31Z" fill="#6b007b"/>
<path d="M440.73 512.86A59.50 59.50 0 0 1 475.70 501.50L475.70 525.30A35.70 35.70 0 0 0 454.72 532.12Z" fill="#e044a7"/>
<g fill="none" stroke="#a08aa0" stroke-width="0.8" opacity="0.5"><polyline points="404,591 418,591"/><polyline points="446,627.5 456,626"/></g>
<text x="533.13" y="514.90" textLength="51.29" lengthAdjust="spacingAndGlyphs" class="dl" style="font-size:11.80px">COD 44%</text>
<text x="419.78" y="494.80" textLength="20.49" lengthAdjust="spacingAndGlyphs" class="dl" style="font-size:11.80px">EMI</text>
<text x="416.74" y="510.20" textLength="22.87" lengthAdjust="spacingAndGlyphs" class="dl" style="font-size:11.80px">10%</text>
<text x="366.49" y="513.70" textLength="45.95" lengthAdjust="spacingAndGlyphs" class="dl" style="font-size:11.80px">Credit ...</text>
<text x="388.53" y="529.70" textLength="23.19" lengthAdjust="spacingAndGlyphs" class="dl" style="font-size:11.80px">12%</text>
<text x="359.92" y="588.70" textLength="42.40" lengthAdjust="spacingAndGlyphs" class="dl" style="font-size:11.80px">Debit ...</text>
<text x="378.33" y="604.10" textLength="23.30" lengthAdjust="spacingAndGlyphs" class="dl" style="font-size:11.80px">13%</text>
<text x="400.05" y="631.60" textLength="44.66" lengthAdjust="spacingAndGlyphs" class="dl" style="font-size:11.80px">UPI 21%</text>
<line x1="624.6" y1="110.2" x2="624.6" y2="331.5" stroke="#3e3a46" stroke-width="3"/>
<circle cx="624.6" cy="110.2" r="5.7" fill="#fff" stroke="#342e3c" stroke-width="2"/>
<circle cx="624.6" cy="331.5" r="5.7" fill="#fff" stroke="#342e3c" stroke-width="2"/>
<text x="661.70" y="115.60" text-anchor="end" textLength="18.99" lengthAdjust="spacingAndGlyphs" class="ax" style="font-size:11.00px">15K</text>
<text x="661.70" y="170.60" text-anchor="end" textLength="18.99" lengthAdjust="spacingAndGlyphs" class="ax" style="font-size:11.00px">10K</text>
<text x="661.70" y="225.60" text-anchor="end" textLength="13.05" lengthAdjust="spacingAndGlyphs" class="ax" style="font-size:11.00px">5K</text>
<text x="661.70" y="280.60" text-anchor="end" textLength="13.05" lengthAdjust="spacingAndGlyphs" class="ax" style="font-size:11.00px">0K</text>
<text x="661.70" y="335.60" text-anchor="end" textLength="16.61" lengthAdjust="spacingAndGlyphs" class="ax" style="font-size:11.00px">-5K</text>
<rect x="686.0" y="169.4" width="34.5" height="106.3" fill="#0a467e"/>
<text x="696.75" y="342.60" text-anchor="end" textLength="39.00" lengthAdjust="spacingAndGlyphs" class="rl" style="font-size:11.30px" transform="rotate(-35.5 696.75 342.60)">January</text>
<rect x="724.5" y="182.6" width="34.5" height="93.1" fill="#0a467e"/>
<text x="735.30" y="342.60" text-anchor="end" textLength="43.86" lengthAdjust="spacingAndGlyphs" class="rl" style="font-size:11.30px" transform="rotate(-35.5 735.30 342.60)">February</text>
<rect x="763.1" y="190.0" width="34.5" height="85.7" fill="#0a467e"/>
<text x="773.85" y="342.60" text-anchor="end" textLength="30.45" lengthAdjust="spacingAndGlyphs" class="rl" style="font-size:11.30px" transform="rotate(-35.5 773.85 342.60)">March</text>
<rect x="801.6" y="229.8" width="34.5" height="45.9" fill="#0a467e"/>
<text x="812.40" y="342.60" text-anchor="end" textLength="21.93" lengthAdjust="spacingAndGlyphs" class="rl" style="font-size:11.30px" transform="rotate(-35.5 812.40 342.60)">April</text>
<rect x="840.2" y="275.7" width="34.5" height="41.5" fill="#d64550"/>
<text x="850.95" y="342.60" text-anchor="end" textLength="20.71" lengthAdjust="spacingAndGlyphs" class="rl" style="font-size:11.30px" transform="rotate(-35.5 850.95 342.60)">May</text>
<rect x="878.8" y="271.3" width="34.5" height="4.4" fill="#0a467e"/>
<text x="889.50" y="342.60" text-anchor="end" textLength="23.77" lengthAdjust="spacingAndGlyphs" class="rl" style="font-size:11.30px" transform="rotate(-35.5 889.50 342.60)">June</text>
<rect x="917.3" y="275.7" width="34.5" height="23.4" fill="#d64550"/>
<text x="928.05" y="342.60" text-anchor="end" textLength="19.49" lengthAdjust="spacingAndGlyphs" class="rl" style="font-size:11.30px" transform="rotate(-35.5 928.05 342.60)">July</text>
<rect x="955.8" y="253.2" width="34.5" height="22.5" fill="#0a467e"/>
<text x="966.60" y="342.60" text-anchor="end" textLength="34.13" lengthAdjust="spacingAndGlyphs" class="rl" style="font-size:11.30px" transform="rotate(-35.5 966.60 342.60)">August</text>
<rect x="994.4" y="275.7" width="34.5" height="15.1" fill="#d64550"/>
<text x="1005.15" y="342.60" text-anchor="end" textLength="53.62" lengthAdjust="spacingAndGlyphs" class="rl" style="font-size:11.30px" transform="rotate(-35.5 1005.15 342.60)">September</text>
<rect x="1033.0" y="243.3" width="34.5" height="32.4" fill="#0a467e"/>
<text x="1043.70" y="342.60" text-anchor="end" textLength="38.99" lengthAdjust="spacingAndGlyphs" class="rl" style="font-size:11.30px" transform="rotate(-35.5 1043.70 342.60)">October</text>
<rect x="1071.5" y="163.0" width="34.5" height="112.7" fill="#0a467e"/>
<text x="1082.25" y="342.60" text-anchor="end" textLength="50.56" lengthAdjust="spacingAndGlyphs" class="rl" style="font-size:11.30px" transform="rotate(-35.5 1082.25 342.60)">November</text>
<rect x="1110.0" y="275.7" width="34.5" height="18.0" fill="#d64550"/>
<text x="1120.80" y="342.60" text-anchor="end" textLength="50.56" lengthAdjust="spacingAndGlyphs" class="rl" style="font-size:11.30px" transform="rotate(-35.5 1120.80 342.60)">December</text>
<rect x="692.7" y="452.1" width="440.5" height="33.2" fill="#3a6aaa"/>
<text x="644.15" y="472.70" textLength="41.08" lengthAdjust="spacingAndGlyphs" class="sl" style="font-size:12.40px">Printers</text>
<rect x="692.7" y="490.0" width="333.3" height="33.0" fill="#00efe0"/>
<text x="628.98" y="510.40" textLength="56.24" lengthAdjust="spacingAndGlyphs" class="sl" style="font-size:12.40px">Bookcases</text>
<rect x="692.7" y="528.0" width="207.5" height="33.4" fill="#dc80bc"/>
<text x="655.70" y="548.80" textLength="29.64" lengthAdjust="spacingAndGlyphs" class="sl" style="font-size:12.40px">Saree</text>
<rect x="692.7" y="565.8" width="171.8" height="33.9" fill="#e8885a"/>
<text x="624.50" y="587.50" textLength="60.70" lengthAdjust="spacingAndGlyphs" class="sl" style="font-size:12.40px">Accessories</text>
<text x="693.70" y="630.40" text-anchor="middle" textLength="13.05" lengthAdjust="spacingAndGlyphs" class="ax" style="font-size:11.00px">0K</text>
<text x="795.75" y="630.40" text-anchor="middle" textLength="13.05" lengthAdjust="spacingAndGlyphs" class="ax" style="font-size:11.00px">2K</text>
<text x="897.80" y="630.40" text-anchor="middle" textLength="13.05" lengthAdjust="spacingAndGlyphs" class="ax" style="font-size:11.00px">4K</text>
<text x="999.85" y="630.40" text-anchor="middle" textLength="13.05" lengthAdjust="spacingAndGlyphs" class="ax" style="font-size:11.00px">6K</text>
<text x="1101.90" y="630.40" text-anchor="middle" textLength="13.05" lengthAdjust="spacingAndGlyphs" class="ax" style="font-size:11.00px">8K</text>
<line x1="693" y1="647.8" x2="1153" y2="647.8" stroke="#6c6c5c" stroke-width="3.4"/>
<line x1="693" y1="647.8" x2="1153" y2="647.8" stroke="#3c3a3c" stroke-width="1.8"/>
<circle cx="693.1" cy="647.7" r="6.2" fill="#fdfdfa" stroke="#4a3a5a" stroke-width="0.6"/>
<circle cx="1153" cy="647.7" r="6.2" fill="#fdfdfa" stroke="#4a3a5a" stroke-width="0.6"/>
</svg>
</body></html>
